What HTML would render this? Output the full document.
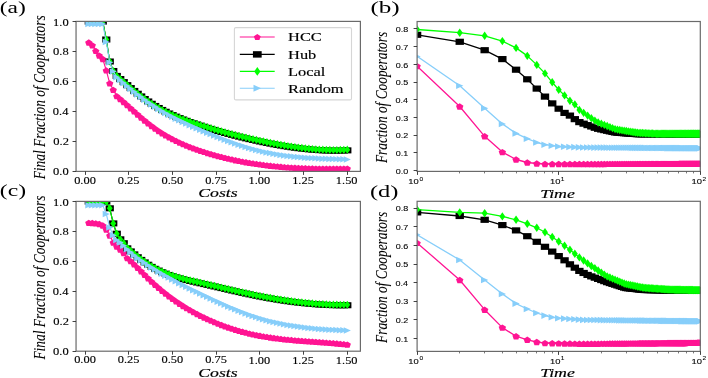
<!DOCTYPE html>
<html><head><meta charset="utf-8"><style>html,body{margin:0;padding:0;background:#fff;}svg{display:block;filter:blur(0.35px);}</style></head>
<body>
<svg width="708" height="378" viewBox="0 0 708 378">
<rect width="708" height="378" fill="#fff"/>
<defs>
<clipPath id="ca"><rect x="76.05" y="21.4" width="284.35" height="150.00"/></clipPath>
<clipPath id="cb"><rect x="417.1" y="21.5" width="283.20" height="149.90"/></clipPath>
<clipPath id="cc"><rect x="76.05" y="201.4" width="284.35" height="149.80"/></clipPath>
<clipPath id="cd"><rect x="417.1" y="201.3" width="283.20" height="150.10"/></clipPath>
</defs>
<g clip-path="url(#ca)">
<polyline points="88.79,42.50 92.29,45.30 95.78,50.90 99.27,55.60 102.77,59.00 106.26,70.40 109.75,83.30 113.25,89.80 116.74,96.12 120.23,99.07 123.73,102.11 127.22,105.22 130.71,108.35 134.21,111.48 137.70,114.58 141.19,117.62 144.69,120.58 148.18,123.42 151.67,126.11 155.17,128.64 158.66,131.03 162.15,133.27 165.65,135.38 169.14,137.36 172.63,139.22 176.13,140.97 179.62,142.62 183.12,144.17 186.61,145.64 190.10,147.02 193.60,148.34 197.09,149.59 200.58,150.79 204.08,151.94 207.57,153.04 211.06,154.09 214.56,155.10 218.05,156.06 221.54,156.98 225.04,157.85 228.53,158.69 232.02,159.48 235.52,160.23 239.01,160.94 242.50,161.62 246.00,162.26 249.49,162.86 252.98,163.42 256.48,163.95 259.97,164.45 263.46,164.91 266.96,165.34 270.45,165.74 273.94,166.11 277.44,166.46 280.93,166.77 284.42,167.05 287.92,167.31 291.41,167.55 294.90,167.76 298.40,167.94 301.89,168.11 305.38,168.25 308.88,168.37 312.37,168.47 315.86,168.56 319.36,168.62 322.85,168.67 326.34,168.70 329.84,168.71 333.33,168.72 336.82,168.70 340.32,168.68 343.81,168.65 347.31,168.60" fill="none" stroke="#ff1493" stroke-width="1.15" stroke-linejoin="round"/>
<g fill="#ff1493"><polygon points="88.79,39.36 92.42,41.76 91.04,45.65 86.55,45.65 85.16,41.76"/><polygon points="92.29,42.16 95.92,44.56 94.53,48.45 90.04,48.45 88.66,44.56"/><polygon points="95.78,47.76 99.41,50.16 98.02,54.05 93.54,54.05 92.15,50.16"/><polygon points="99.27,52.46 102.90,54.86 101.52,58.75 97.03,58.75 95.64,54.86"/><polygon points="102.77,55.86 106.40,58.26 105.01,62.15 100.52,62.15 99.14,58.26"/><polygon points="106.26,67.26 109.89,69.66 108.50,73.55 104.02,73.55 102.63,69.66"/><polygon points="109.75,80.16 113.38,82.56 112.00,86.45 107.51,86.45 106.12,82.56"/><polygon points="113.25,86.66 116.88,89.06 115.49,92.95 111.00,92.95 109.62,89.06"/><polygon points="116.74,92.98 120.37,95.38 118.98,99.27 114.50,99.27 113.11,95.38"/><polygon points="120.23,95.93 123.86,98.33 122.48,102.22 117.99,102.22 116.60,98.33"/><polygon points="123.73,98.97 127.36,101.37 125.97,105.26 121.48,105.26 120.10,101.37"/><polygon points="127.22,102.07 130.85,104.47 129.46,108.36 124.98,108.36 123.59,104.47"/><polygon points="130.71,105.20 134.34,107.60 132.96,111.49 128.47,111.49 127.09,107.60"/><polygon points="134.21,108.33 137.84,110.74 136.45,114.62 131.96,114.62 130.58,110.74"/><polygon points="137.70,111.44 141.33,113.84 139.94,117.73 135.46,117.73 134.07,113.84"/><polygon points="141.19,114.48 144.82,116.88 143.44,120.77 138.95,120.77 137.57,116.88"/><polygon points="144.69,117.43 148.32,119.84 146.93,123.72 142.44,123.72 141.06,119.84"/><polygon points="148.18,120.27 151.81,122.68 150.42,126.56 145.94,126.56 144.55,122.68"/><polygon points="151.67,122.96 155.30,125.37 153.92,129.25 149.43,129.25 148.05,125.37"/><polygon points="155.17,125.50 158.80,127.90 157.41,131.79 152.93,131.79 151.54,127.90"/><polygon points="158.66,127.88 162.29,130.29 160.90,134.17 156.42,134.17 155.03,130.29"/><polygon points="162.15,130.13 165.78,132.53 164.40,136.42 159.91,136.42 158.53,132.53"/><polygon points="165.65,132.23 169.28,134.63 167.89,138.52 163.41,138.52 162.02,134.63"/><polygon points="169.14,134.21 172.77,136.62 171.38,140.50 166.90,140.50 165.51,136.62"/><polygon points="172.63,136.07 176.26,138.48 174.88,142.36 170.39,142.36 169.01,138.48"/><polygon points="176.13,137.82 179.76,140.23 178.37,144.11 173.89,144.11 172.50,140.23"/><polygon points="179.62,139.47 183.25,141.88 181.86,145.76 177.38,145.76 175.99,141.88"/><polygon points="183.12,141.03 186.74,143.43 185.36,147.32 180.87,147.32 179.49,143.43"/><polygon points="186.61,142.49 190.24,144.89 188.85,148.78 184.37,148.78 182.98,144.89"/><polygon points="190.10,143.88 193.73,146.28 192.34,150.17 187.86,150.17 186.47,146.28"/><polygon points="193.60,145.19 197.22,147.60 195.84,151.48 191.35,151.48 189.97,147.60"/><polygon points="197.09,146.45 200.72,148.85 199.33,152.74 194.85,152.74 193.46,148.85"/><polygon points="200.58,147.64 204.21,150.05 202.83,153.93 198.34,153.93 196.95,150.05"/><polygon points="204.08,148.79 207.70,151.19 206.32,155.08 201.83,155.08 200.45,151.19"/><polygon points="207.57,149.89 211.20,152.29 209.81,156.18 205.33,156.18 203.94,152.29"/><polygon points="211.06,150.94 214.69,153.35 213.31,157.23 208.82,157.23 207.43,153.35"/><polygon points="214.56,151.95 218.18,154.35 216.80,158.24 212.31,158.24 210.93,154.35"/><polygon points="218.05,152.91 221.68,155.32 220.29,159.20 215.81,159.20 214.42,155.32"/><polygon points="221.54,153.83 225.17,156.24 223.79,160.12 219.30,160.12 217.91,156.24"/><polygon points="225.04,154.71 228.67,157.11 227.28,161.00 222.79,161.00 221.41,157.11"/><polygon points="228.53,155.54 232.16,157.94 230.77,161.83 226.29,161.83 224.90,157.94"/><polygon points="232.02,156.33 235.65,158.74 234.27,162.62 229.78,162.62 228.39,158.74"/><polygon points="235.52,157.09 239.15,159.49 237.76,163.38 233.27,163.38 231.89,159.49"/><polygon points="239.01,157.80 242.64,160.20 241.25,164.09 236.77,164.09 235.38,160.20"/><polygon points="242.50,158.47 246.13,160.88 244.75,164.76 240.26,164.76 238.87,160.88"/><polygon points="246.00,159.11 249.63,161.51 248.24,165.40 243.75,165.40 242.37,161.51"/><polygon points="249.49,159.71 253.12,162.11 251.73,166.00 247.25,166.00 245.86,162.11"/><polygon points="252.98,160.28 256.61,162.68 255.23,166.57 250.74,166.57 249.35,162.68"/><polygon points="256.48,160.81 260.11,163.21 258.72,167.10 254.23,167.10 252.85,163.21"/><polygon points="259.97,161.30 263.60,163.71 262.21,167.59 257.73,167.59 256.34,163.71"/><polygon points="263.46,161.77 267.09,164.17 265.71,168.06 261.22,168.06 259.83,164.17"/><polygon points="266.96,162.20 270.59,164.60 269.20,168.49 264.71,168.49 263.33,164.60"/><polygon points="270.45,162.60 274.08,165.00 272.69,168.89 268.21,168.89 266.82,165.00"/><polygon points="273.94,162.97 277.57,165.37 276.19,169.26 271.70,169.26 270.31,165.37"/><polygon points="277.44,163.31 281.07,165.71 279.68,169.60 275.19,169.60 273.81,165.71"/><polygon points="280.93,163.62 284.56,166.03 283.17,169.91 278.69,169.91 277.30,166.03"/><polygon points="284.42,163.91 288.05,166.31 286.67,170.20 282.18,170.20 280.79,166.31"/><polygon points="287.92,164.17 291.55,166.57 290.16,170.46 285.67,170.46 284.29,166.57"/><polygon points="291.41,164.40 295.04,166.81 293.65,170.69 289.17,170.69 287.78,166.81"/><polygon points="294.90,164.61 298.53,167.02 297.15,170.90 292.66,170.90 291.27,167.02"/><polygon points="298.40,164.80 302.03,167.20 300.64,171.09 296.15,171.09 294.77,167.20"/><polygon points="301.89,164.96 305.52,167.37 304.13,171.25 299.65,171.25 298.26,167.37"/><polygon points="305.38,165.11 309.01,167.51 307.63,171.40 303.14,171.40 301.76,167.51"/><polygon points="308.88,165.23 312.51,167.63 311.12,171.52 306.63,171.52 305.25,167.63"/><polygon points="312.37,165.33 316.00,167.73 314.61,171.62 310.13,171.62 308.74,167.73"/><polygon points="315.86,165.41 319.49,167.81 318.11,171.70 313.62,171.70 312.24,167.81"/><polygon points="319.36,165.47 322.99,167.88 321.60,171.76 317.11,171.76 315.73,167.88"/><polygon points="322.85,165.52 326.48,167.92 325.09,171.81 320.61,171.81 319.22,167.92"/><polygon points="326.34,165.55 329.97,167.96 328.59,171.84 324.10,171.84 322.72,167.96"/><polygon points="329.84,165.57 333.47,167.97 332.08,171.86 327.60,171.86 326.21,167.97"/><polygon points="333.33,165.57 336.96,167.97 335.57,171.86 331.09,171.86 329.70,167.97"/><polygon points="336.82,165.56 340.45,167.96 339.07,171.85 334.58,171.85 333.20,167.96"/><polygon points="340.32,165.54 343.95,167.94 342.56,171.83 338.08,171.83 336.69,167.94"/><polygon points="343.81,165.50 347.44,167.90 346.05,171.79 341.57,171.79 340.18,167.90"/><polygon points="347.31,165.45 350.93,167.86 349.55,171.74 345.06,171.74 343.68,167.86"/></g>
</g>
<g clip-path="url(#ca)">
<polyline points="88.79,21.60 92.29,21.60 95.78,21.60 99.27,21.60 102.77,21.60 106.26,39.50 109.75,61.50 113.25,71.00 116.74,75.92 120.23,79.04 123.73,82.12 127.22,85.13 130.71,88.08 134.21,90.96 137.70,93.74 141.19,96.43 144.69,99.00 148.18,101.45 151.67,103.77 155.17,105.95 158.66,108.01 162.15,109.94 165.65,111.77 169.14,113.49 172.63,115.11 176.13,116.65 179.62,118.10 183.12,119.49 186.61,120.81 190.10,122.08 193.60,123.29 197.09,124.47 200.58,125.62 204.08,126.74 207.57,127.84 211.06,128.91 214.56,129.95 218.05,130.98 221.54,131.98 225.04,132.95 228.53,133.90 232.02,134.83 235.52,135.74 239.01,136.63 242.50,137.49 246.00,138.33 249.49,139.15 252.98,139.95 256.48,140.73 259.97,141.48 263.46,142.22 266.96,142.93 270.45,143.62 273.94,144.29 277.44,144.93 280.93,145.55 284.42,146.13 287.92,146.69 291.41,147.21 294.90,147.71 298.40,148.17 301.89,148.59 305.38,148.98 308.88,149.33 312.37,149.65 315.86,149.92 319.36,150.15 322.85,150.34 326.34,150.49 329.84,150.59 333.33,150.64 336.82,150.64 340.32,150.60 343.81,150.51 347.31,150.36" fill="none" stroke="#000000" stroke-width="1.15" stroke-linejoin="round"/>
<g fill="#000000"><rect x="84.69" y="18.58" width="8.21" height="6.05"/><rect x="88.18" y="18.58" width="8.21" height="6.05"/><rect x="91.68" y="18.58" width="8.21" height="6.05"/><rect x="95.17" y="18.58" width="8.21" height="6.05"/><rect x="98.66" y="18.58" width="8.21" height="6.05"/><rect x="102.16" y="36.48" width="8.21" height="6.05"/><rect x="105.65" y="58.48" width="8.21" height="6.05"/><rect x="109.14" y="67.98" width="8.21" height="6.05"/><rect x="112.64" y="72.90" width="8.21" height="6.05"/><rect x="116.13" y="76.02" width="8.21" height="6.05"/><rect x="119.62" y="79.09" width="8.21" height="6.05"/><rect x="123.12" y="82.11" width="8.21" height="6.05"/><rect x="126.61" y="85.06" width="8.21" height="6.05"/><rect x="130.10" y="87.93" width="8.21" height="6.05"/><rect x="133.60" y="90.72" width="8.21" height="6.05"/><rect x="137.09" y="93.40" width="8.21" height="6.05"/><rect x="140.58" y="95.98" width="8.21" height="6.05"/><rect x="144.08" y="98.43" width="8.21" height="6.05"/><rect x="147.57" y="100.75" width="8.21" height="6.05"/><rect x="151.06" y="102.93" width="8.21" height="6.05"/><rect x="154.56" y="104.98" width="8.21" height="6.05"/><rect x="158.05" y="106.92" width="8.21" height="6.05"/><rect x="161.54" y="108.74" width="8.21" height="6.05"/><rect x="165.04" y="110.46" width="8.21" height="6.05"/><rect x="168.53" y="112.09" width="8.21" height="6.05"/><rect x="172.02" y="113.62" width="8.21" height="6.05"/><rect x="175.52" y="115.08" width="8.21" height="6.05"/><rect x="179.01" y="116.47" width="8.21" height="6.05"/><rect x="182.50" y="117.79" width="8.21" height="6.05"/><rect x="186.00" y="119.05" width="8.21" height="6.05"/><rect x="189.49" y="120.27" width="8.21" height="6.05"/><rect x="192.98" y="121.45" width="8.21" height="6.05"/><rect x="196.48" y="122.60" width="8.21" height="6.05"/><rect x="199.97" y="123.72" width="8.21" height="6.05"/><rect x="203.47" y="124.81" width="8.21" height="6.05"/><rect x="206.96" y="125.88" width="8.21" height="6.05"/><rect x="210.45" y="126.93" width="8.21" height="6.05"/><rect x="213.95" y="127.95" width="8.21" height="6.05"/><rect x="217.44" y="128.95" width="8.21" height="6.05"/><rect x="220.93" y="129.93" width="8.21" height="6.05"/><rect x="224.43" y="130.88" width="8.21" height="6.05"/><rect x="227.92" y="131.81" width="8.21" height="6.05"/><rect x="231.41" y="132.72" width="8.21" height="6.05"/><rect x="234.91" y="133.60" width="8.21" height="6.05"/><rect x="238.40" y="134.47" width="8.21" height="6.05"/><rect x="241.89" y="135.31" width="8.21" height="6.05"/><rect x="245.39" y="136.13" width="8.21" height="6.05"/><rect x="248.88" y="136.92" width="8.21" height="6.05"/><rect x="252.37" y="137.70" width="8.21" height="6.05"/><rect x="255.87" y="138.46" width="8.21" height="6.05"/><rect x="259.36" y="139.19" width="8.21" height="6.05"/><rect x="262.85" y="139.91" width="8.21" height="6.05"/><rect x="266.35" y="140.60" width="8.21" height="6.05"/><rect x="269.84" y="141.27" width="8.21" height="6.05"/><rect x="273.33" y="141.91" width="8.21" height="6.05"/><rect x="276.83" y="142.52" width="8.21" height="6.05"/><rect x="280.32" y="143.11" width="8.21" height="6.05"/><rect x="283.81" y="143.66" width="8.21" height="6.05"/><rect x="287.31" y="144.19" width="8.21" height="6.05"/><rect x="290.80" y="144.68" width="8.21" height="6.05"/><rect x="294.29" y="145.14" width="8.21" height="6.05"/><rect x="297.79" y="145.57" width="8.21" height="6.05"/><rect x="301.28" y="145.96" width="8.21" height="6.05"/><rect x="304.77" y="146.31" width="8.21" height="6.05"/><rect x="308.27" y="146.62" width="8.21" height="6.05"/><rect x="311.76" y="146.89" width="8.21" height="6.05"/><rect x="315.25" y="147.13" width="8.21" height="6.05"/><rect x="318.75" y="147.32" width="8.21" height="6.05"/><rect x="322.24" y="147.46" width="8.21" height="6.05"/><rect x="325.73" y="147.56" width="8.21" height="6.05"/><rect x="329.23" y="147.61" width="8.21" height="6.05"/><rect x="332.72" y="147.62" width="8.21" height="6.05"/><rect x="336.21" y="147.58" width="8.21" height="6.05"/><rect x="339.71" y="147.48" width="8.21" height="6.05"/><rect x="343.20" y="147.34" width="8.21" height="6.05"/></g>
</g>
<g clip-path="url(#ca)">
<polyline points="88.79,21.60 92.29,21.60 95.78,21.60 99.27,21.60 102.77,21.60 106.26,39.50 109.75,61.50 113.25,71.00 116.74,75.96 120.23,79.02 123.73,82.06 127.22,85.07 130.71,88.03 134.21,90.92 137.70,93.73 141.19,96.45 144.69,99.05 148.18,101.53 151.67,103.86 155.17,106.05 158.66,108.10 162.15,110.02 165.65,111.82 169.14,113.51 172.63,115.10 176.13,116.60 179.62,118.01 183.12,119.35 186.61,120.62 190.10,121.83 193.60,123.00 197.09,124.13 200.58,125.23 204.08,126.31 207.57,127.36 211.06,128.40 214.56,129.41 218.05,130.40 221.54,131.37 225.04,132.32 228.53,133.25 232.02,134.16 235.52,135.05 239.01,135.92 242.50,136.77 246.00,137.60 249.49,138.41 252.98,139.20 256.48,139.98 259.97,140.73 263.46,141.47 266.96,142.18 270.45,142.88 273.94,143.55 277.44,144.20 280.93,144.82 284.42,145.42 287.92,145.98 291.41,146.52 294.90,147.02 298.40,147.49 301.89,147.92 305.38,148.32 308.88,148.68 312.37,149.00 315.86,149.27 319.36,149.51 322.85,149.70 326.34,149.84 329.84,149.94 333.33,149.99 336.82,149.98 340.32,149.93 343.81,149.82 347.31,149.66" fill="none" stroke="#00ff00" stroke-width="1.15" stroke-linejoin="round"/>
<g fill="#00ff00"><polygon points="88.79,17.50 91.71,21.60 88.79,25.70 85.88,21.60"/><polygon points="92.29,17.50 95.20,21.60 92.29,25.70 89.37,21.60"/><polygon points="95.78,17.50 98.70,21.60 95.78,25.70 92.86,21.60"/><polygon points="99.27,17.50 102.19,21.60 99.27,25.70 96.36,21.60"/><polygon points="102.77,17.50 105.68,21.60 102.77,25.70 99.85,21.60"/><polygon points="106.26,35.40 109.18,39.50 106.26,43.60 103.34,39.50"/><polygon points="109.75,57.40 112.67,61.50 109.75,65.60 106.84,61.50"/><polygon points="113.25,66.90 116.16,71.00 113.25,75.10 110.33,71.00"/><polygon points="116.74,71.85 119.66,75.96 116.74,80.06 113.82,75.96"/><polygon points="120.23,74.92 123.15,79.02 120.23,83.12 117.32,79.02"/><polygon points="123.73,77.96 126.64,82.06 123.73,86.17 120.81,82.06"/><polygon points="127.22,80.97 130.14,85.07 127.22,89.17 124.30,85.07"/><polygon points="130.71,83.92 133.63,88.03 130.71,92.13 127.80,88.03"/><polygon points="134.21,86.82 137.12,90.92 134.21,95.02 131.29,90.92"/><polygon points="137.70,89.63 140.62,93.73 137.70,97.84 134.78,93.73"/><polygon points="141.19,92.34 144.11,96.45 141.19,100.55 138.28,96.45"/><polygon points="144.69,94.95 147.60,99.05 144.69,103.16 141.77,99.05"/><polygon points="148.18,97.42 151.10,101.53 148.18,105.63 145.27,101.53"/><polygon points="151.67,99.76 154.59,103.86 151.67,107.96 148.76,103.86"/><polygon points="155.17,101.94 158.08,106.05 155.17,110.15 152.25,106.05"/><polygon points="158.66,103.99 161.58,108.10 158.66,112.20 155.75,108.10"/><polygon points="162.15,105.91 165.07,110.02 162.15,114.12 159.24,110.02"/><polygon points="165.65,107.72 168.56,111.82 165.65,115.92 162.73,111.82"/><polygon points="169.14,109.41 172.06,113.51 169.14,117.61 166.23,113.51"/><polygon points="172.63,111.00 175.55,115.10 172.63,119.20 169.72,115.10"/><polygon points="176.13,112.49 179.04,116.60 176.13,120.70 173.21,116.60"/><polygon points="179.62,113.90 182.54,118.01 179.62,122.11 176.71,118.01"/><polygon points="183.12,115.24 186.03,119.35 183.12,123.45 180.20,119.35"/><polygon points="186.61,116.51 189.52,120.62 186.61,124.72 183.69,120.62"/><polygon points="190.10,117.73 193.02,121.83 190.10,125.94 187.19,121.83"/><polygon points="193.60,118.90 196.51,123.00 193.60,127.11 190.68,123.00"/><polygon points="197.09,120.03 200.00,124.13 197.09,128.24 194.17,124.13"/><polygon points="200.58,121.13 203.50,125.23 200.58,129.34 197.67,125.23"/><polygon points="204.08,122.21 206.99,126.31 204.08,130.41 201.16,126.31"/><polygon points="207.57,123.26 210.49,127.36 207.57,131.47 204.65,127.36"/><polygon points="211.06,124.29 213.98,128.40 211.06,132.50 208.15,128.40"/><polygon points="214.56,125.31 217.47,129.41 214.56,133.51 211.64,129.41"/><polygon points="218.05,126.30 220.97,130.40 218.05,134.51 215.13,130.40"/><polygon points="221.54,127.27 224.46,131.37 221.54,135.48 218.63,131.37"/><polygon points="225.04,128.22 227.95,132.32 225.04,136.43 222.12,132.32"/><polygon points="228.53,129.15 231.45,133.25 228.53,137.36 225.61,133.25"/><polygon points="232.02,130.06 234.94,134.16 232.02,138.27 229.11,134.16"/><polygon points="235.52,130.95 238.43,135.05 235.52,139.15 232.60,135.05"/><polygon points="239.01,131.82 241.93,135.92 239.01,140.02 236.09,135.92"/><polygon points="242.50,132.67 245.42,136.77 242.50,140.87 239.59,136.77"/><polygon points="246.00,133.50 248.91,137.60 246.00,141.70 243.08,137.60"/><polygon points="249.49,134.31 252.41,138.41 249.49,142.51 246.57,138.41"/><polygon points="252.98,135.10 255.90,139.20 252.98,143.31 250.07,139.20"/><polygon points="256.48,135.87 259.39,139.98 256.48,144.08 253.56,139.98"/><polygon points="259.97,136.63 262.89,140.73 259.97,144.84 257.05,140.73"/><polygon points="263.46,137.36 266.38,141.47 263.46,145.57 260.55,141.47"/><polygon points="266.96,138.08 269.87,142.18 266.96,146.29 264.04,142.18"/><polygon points="270.45,138.78 273.37,142.88 270.45,146.98 267.53,142.88"/><polygon points="273.94,139.45 276.86,143.55 273.94,147.66 271.03,143.55"/><polygon points="277.44,140.10 280.35,144.20 277.44,148.30 274.52,144.20"/><polygon points="280.93,140.72 283.85,144.82 280.93,148.93 278.01,144.82"/><polygon points="284.42,141.31 287.34,145.42 284.42,149.52 281.51,145.42"/><polygon points="287.92,141.88 290.83,145.98 287.92,150.09 285.00,145.98"/><polygon points="291.41,142.41 294.33,146.52 291.41,150.62 288.49,146.52"/><polygon points="294.90,142.91 297.82,147.02 294.90,151.12 291.99,147.02"/><polygon points="298.40,143.38 301.31,147.49 298.40,151.59 295.48,147.49"/><polygon points="301.89,143.82 304.81,147.92 301.89,152.03 298.97,147.92"/><polygon points="305.38,144.21 308.30,148.32 305.38,152.42 302.47,148.32"/><polygon points="308.88,144.57 311.79,148.68 308.88,152.78 305.96,148.68"/><polygon points="312.37,144.89 315.29,149.00 312.37,153.10 309.45,149.00"/><polygon points="315.86,145.17 318.78,149.27 315.86,153.38 312.95,149.27"/><polygon points="319.36,145.40 322.27,149.51 319.36,153.61 316.44,149.51"/><polygon points="322.85,145.59 325.77,149.70 322.85,153.80 319.94,149.70"/><polygon points="326.34,145.74 329.26,149.84 326.34,153.95 323.43,149.84"/><polygon points="329.84,145.84 332.75,149.94 329.84,154.04 326.92,149.94"/><polygon points="333.33,145.88 336.25,149.99 333.33,154.09 330.42,149.99"/><polygon points="336.82,145.88 339.74,149.98 336.82,154.09 333.91,149.98"/><polygon points="340.32,145.83 343.23,149.93 340.32,154.03 337.40,149.93"/><polygon points="343.81,145.72 346.73,149.82 343.81,153.92 340.90,149.82"/><polygon points="347.31,145.55 350.22,149.66 347.31,153.76 344.39,149.66"/></g>
</g>
<g clip-path="url(#ca)">
<polyline points="88.79,24.00 92.29,24.00 95.78,24.00 99.27,24.00 102.77,24.00 106.26,42.00 109.75,62.40 113.25,71.50 116.74,77.17 120.23,80.12 123.73,83.06 127.22,85.96 130.71,88.83 134.21,91.65 137.70,94.41 141.19,97.09 144.69,99.68 148.18,102.18 151.67,104.58 155.17,106.86 158.66,109.04 162.15,111.12 165.65,113.12 169.14,115.03 172.63,116.87 176.13,118.64 179.62,120.35 183.12,122.00 186.61,123.61 190.10,125.18 193.60,126.72 197.09,128.23 200.58,129.73 204.08,131.21 207.57,132.67 211.06,134.11 214.56,135.54 218.05,136.94 221.54,138.31 225.04,139.65 228.53,140.96 232.02,142.24 235.52,143.47 239.01,144.67 242.50,145.82 246.00,146.92 249.49,147.97 252.98,148.97 256.48,149.92 259.97,150.81 263.46,151.63 266.96,152.40 270.45,153.11 273.94,153.77 277.44,154.37 280.93,154.93 284.42,155.44 287.92,155.90 291.41,156.33 294.90,156.71 298.40,157.06 301.89,157.37 305.38,157.65 308.88,157.90 312.37,158.12 315.86,158.32 319.36,158.50 322.85,158.65 326.34,158.79 329.84,158.92 333.33,159.03 336.82,159.13 340.32,159.22 343.81,159.30 347.31,159.39" fill="none" stroke="#87cefa" stroke-width="1.15" stroke-linejoin="round"/>
<g fill="#87cefa"><polygon points="92.36,24.00 85.23,20.76 85.23,27.24"/><polygon points="95.85,24.00 88.72,20.76 88.72,27.24"/><polygon points="99.34,24.00 92.22,20.76 92.22,27.24"/><polygon points="102.84,24.00 95.71,20.76 95.71,27.24"/><polygon points="106.33,24.00 99.20,20.76 99.20,27.24"/><polygon points="109.82,42.00 102.70,38.76 102.70,45.24"/><polygon points="113.32,62.40 106.19,59.16 106.19,65.64"/><polygon points="116.81,71.50 109.68,68.26 109.68,74.74"/><polygon points="120.30,77.17 113.18,73.93 113.18,80.41"/><polygon points="123.80,80.12 116.67,76.88 116.67,83.36"/><polygon points="127.29,83.06 120.16,79.82 120.16,86.30"/><polygon points="130.78,85.96 123.66,82.72 123.66,89.20"/><polygon points="134.28,88.83 127.15,85.59 127.15,92.07"/><polygon points="137.77,91.65 130.64,88.41 130.64,94.89"/><polygon points="141.26,94.41 134.14,91.17 134.14,97.65"/><polygon points="144.76,97.09 137.63,93.85 137.63,100.33"/><polygon points="148.25,99.68 141.12,96.44 141.12,102.92"/><polygon points="151.75,102.18 144.62,98.94 144.62,105.42"/><polygon points="155.24,104.58 148.11,101.34 148.11,107.82"/><polygon points="158.73,106.86 151.60,103.62 151.60,110.10"/><polygon points="162.23,109.04 155.10,105.80 155.10,112.28"/><polygon points="165.72,111.12 158.59,107.88 158.59,114.36"/><polygon points="169.21,113.12 162.08,109.88 162.08,116.36"/><polygon points="172.71,115.03 165.58,111.79 165.58,118.27"/><polygon points="176.20,116.87 169.07,113.63 169.07,120.11"/><polygon points="179.69,118.64 172.56,115.40 172.56,121.88"/><polygon points="183.19,120.35 176.06,117.11 176.06,123.59"/><polygon points="186.68,122.00 179.55,118.76 179.55,125.24"/><polygon points="190.17,123.61 183.04,120.37 183.04,126.85"/><polygon points="193.67,125.18 186.54,121.94 186.54,128.42"/><polygon points="197.16,126.72 190.03,123.48 190.03,129.96"/><polygon points="200.65,128.23 193.52,124.99 193.52,131.47"/><polygon points="204.15,129.73 197.02,126.49 197.02,132.97"/><polygon points="207.64,131.21 200.51,127.97 200.51,134.45"/><polygon points="211.13,132.67 204.01,129.43 204.01,135.91"/><polygon points="214.63,134.11 207.50,130.87 207.50,137.35"/><polygon points="218.12,135.54 210.99,132.30 210.99,138.78"/><polygon points="221.61,136.94 214.49,133.70 214.49,140.18"/><polygon points="225.11,138.31 217.98,135.07 217.98,141.55"/><polygon points="228.60,139.65 221.47,136.41 221.47,142.89"/><polygon points="232.09,140.96 224.97,137.72 224.97,144.20"/><polygon points="235.59,142.24 228.46,139.00 228.46,145.48"/><polygon points="239.08,143.47 231.95,140.23 231.95,146.71"/><polygon points="242.57,144.67 235.45,141.43 235.45,147.91"/><polygon points="246.07,145.82 238.94,142.58 238.94,149.06"/><polygon points="249.56,146.92 242.43,143.68 242.43,150.16"/><polygon points="253.05,147.97 245.93,144.73 245.93,151.21"/><polygon points="256.55,148.97 249.42,145.73 249.42,152.21"/><polygon points="260.04,149.92 252.91,146.68 252.91,153.16"/><polygon points="263.53,150.81 256.41,147.57 256.41,154.05"/><polygon points="267.03,151.63 259.90,148.39 259.90,154.87"/><polygon points="270.52,152.40 263.39,149.16 263.39,155.64"/><polygon points="274.01,153.11 266.89,149.87 266.89,156.35"/><polygon points="277.51,153.77 270.38,150.53 270.38,157.01"/><polygon points="281.00,154.37 273.87,151.13 273.87,157.61"/><polygon points="284.49,154.93 277.37,151.69 277.37,158.17"/><polygon points="287.99,155.44 280.86,152.20 280.86,158.68"/><polygon points="291.48,155.90 284.35,152.66 284.35,159.14"/><polygon points="294.97,156.33 287.85,153.09 287.85,159.57"/><polygon points="298.47,156.71 291.34,153.47 291.34,159.95"/><polygon points="301.96,157.06 294.83,153.82 294.83,160.30"/><polygon points="305.45,157.37 298.33,154.13 298.33,160.61"/><polygon points="308.95,157.65 301.82,154.41 301.82,160.89"/><polygon points="312.44,157.90 305.31,154.66 305.31,161.14"/><polygon points="315.94,158.12 308.81,154.88 308.81,161.36"/><polygon points="319.43,158.32 312.30,155.08 312.30,161.56"/><polygon points="322.92,158.50 315.79,155.26 315.79,161.74"/><polygon points="326.42,158.65 319.29,155.41 319.29,161.89"/><polygon points="329.91,158.79 322.78,155.55 322.78,162.03"/><polygon points="333.40,158.92 326.27,155.68 326.27,162.16"/><polygon points="336.90,159.03 329.77,155.79 329.77,162.27"/><polygon points="340.39,159.13 333.26,155.89 333.26,162.37"/><polygon points="343.88,159.22 336.75,155.98 336.75,162.46"/><polygon points="347.38,159.30 340.25,156.06 340.25,162.54"/><polygon points="350.87,159.39 343.74,156.15 343.74,162.63"/></g>
</g>
<g clip-path="url(#cc)">
<polyline points="88.79,222.80 92.29,223.00 95.78,223.30 99.27,224.00 102.77,225.50 106.26,229.50 109.75,235.60 113.25,242.50 116.74,246.50 120.23,249.60 123.73,253.00 127.22,258.13 130.71,261.16 134.21,264.41 137.70,267.82 141.19,271.31 144.69,274.83 148.18,278.30 151.67,281.66 155.17,284.87 158.66,287.95 162.15,290.89 165.65,293.70 169.14,296.39 172.63,298.96 176.13,301.41 179.62,303.76 183.12,306.00 186.61,308.14 190.10,310.18 193.60,312.14 197.09,314.01 200.58,315.80 204.08,317.51 207.57,319.15 211.06,320.72 214.56,322.22 218.05,323.64 221.54,325.00 225.04,326.29 228.53,327.51 232.02,328.67 235.52,329.76 239.01,330.79 242.50,331.76 246.00,332.67 249.49,333.53 252.98,334.32 256.48,335.06 259.97,335.75 263.46,336.38 266.96,336.97 270.45,337.51 273.94,338.01 277.44,338.46 280.93,338.88 284.42,339.27 287.92,339.63 291.41,339.97 294.90,340.28 298.40,340.57 301.89,340.85 305.38,341.11 308.88,341.37 312.37,341.62 315.86,341.86 319.36,342.11 322.85,342.36 326.34,342.62 329.84,342.90 333.33,343.18 336.82,343.49 340.32,343.81 343.81,344.16 347.31,344.54" fill="none" stroke="#ff1493" stroke-width="1.15" stroke-linejoin="round"/>
<g fill="#ff1493"><polygon points="88.79,219.66 92.42,222.06 91.04,225.95 86.55,225.95 85.16,222.06"/><polygon points="92.29,219.86 95.92,222.26 94.53,226.15 90.04,226.15 88.66,222.26"/><polygon points="95.78,220.16 99.41,222.56 98.02,226.45 93.54,226.45 92.15,222.56"/><polygon points="99.27,220.86 102.90,223.26 101.52,227.15 97.03,227.15 95.64,223.26"/><polygon points="102.77,222.36 106.40,224.76 105.01,228.65 100.52,228.65 99.14,224.76"/><polygon points="106.26,226.36 109.89,228.76 108.50,232.65 104.02,232.65 102.63,228.76"/><polygon points="109.75,232.46 113.38,234.86 112.00,238.75 107.51,238.75 106.12,234.86"/><polygon points="113.25,239.36 116.88,241.76 115.49,245.65 111.00,245.65 109.62,241.76"/><polygon points="116.74,243.36 120.37,245.76 118.98,249.65 114.50,249.65 113.11,245.76"/><polygon points="120.23,246.46 123.86,248.86 122.48,252.75 117.99,252.75 116.60,248.86"/><polygon points="123.73,249.86 127.36,252.26 125.97,256.15 121.48,256.15 120.10,252.26"/><polygon points="127.22,254.99 130.85,257.39 129.46,261.28 124.98,261.28 123.59,257.39"/><polygon points="130.71,258.02 134.34,260.42 132.96,264.31 128.47,264.31 127.09,260.42"/><polygon points="134.21,261.27 137.84,263.67 136.45,267.56 131.96,267.56 130.58,263.67"/><polygon points="137.70,264.68 141.33,267.08 139.94,270.97 135.46,270.97 134.07,267.08"/><polygon points="141.19,268.17 144.82,270.57 143.44,274.46 138.95,274.46 137.57,270.57"/><polygon points="144.69,271.68 148.32,274.09 146.93,277.97 142.44,277.97 141.06,274.09"/><polygon points="148.18,275.15 151.81,277.55 150.42,281.44 145.94,281.44 144.55,277.55"/><polygon points="151.67,278.51 155.30,280.91 153.92,284.80 149.43,284.80 148.05,280.91"/><polygon points="155.17,281.73 158.80,284.13 157.41,288.02 152.93,288.02 151.54,284.13"/><polygon points="158.66,284.80 162.29,287.21 160.90,291.09 156.42,291.09 155.03,287.21"/><polygon points="162.15,287.75 165.78,290.15 164.40,294.04 159.91,294.04 158.53,290.15"/><polygon points="165.65,290.56 169.28,292.96 167.89,296.85 163.41,296.85 162.02,292.96"/><polygon points="169.14,293.25 172.77,295.65 171.38,299.54 166.90,299.54 165.51,295.65"/><polygon points="172.63,295.82 176.26,298.22 174.88,302.11 170.39,302.11 169.01,298.22"/><polygon points="176.13,298.27 179.76,300.67 178.37,304.56 173.89,304.56 172.50,300.67"/><polygon points="179.62,300.61 183.25,303.02 181.86,306.90 177.38,306.90 175.99,303.02"/><polygon points="183.12,302.85 186.74,305.26 185.36,309.14 180.87,309.14 179.49,305.26"/><polygon points="186.61,304.99 190.24,307.40 188.85,311.28 184.37,311.28 182.98,307.40"/><polygon points="190.10,307.04 193.73,309.44 192.34,313.33 187.86,313.33 186.47,309.44"/><polygon points="193.60,308.99 197.22,311.40 195.84,315.28 191.35,315.28 189.97,311.40"/><polygon points="197.09,310.87 200.72,313.27 199.33,317.15 194.85,317.15 193.46,313.27"/><polygon points="200.58,312.66 204.21,315.06 202.83,318.95 198.34,318.95 196.95,315.06"/><polygon points="204.08,314.37 207.70,316.77 206.32,320.66 201.83,320.66 200.45,316.77"/><polygon points="207.57,316.01 211.20,318.41 209.81,322.30 205.33,322.30 203.94,318.41"/><polygon points="211.06,317.58 214.69,319.98 213.31,323.87 208.82,323.87 207.43,319.98"/><polygon points="214.56,319.07 218.18,321.47 216.80,325.36 212.31,325.36 210.93,321.47"/><polygon points="218.05,320.50 221.68,322.90 220.29,326.79 215.81,326.79 214.42,322.90"/><polygon points="221.54,321.85 225.17,324.25 223.79,328.14 219.30,328.14 217.91,324.25"/><polygon points="225.04,323.14 228.67,325.54 227.28,329.43 222.79,329.43 221.41,325.54"/><polygon points="228.53,324.36 232.16,326.77 230.77,330.65 226.29,330.65 224.90,326.77"/><polygon points="232.02,325.52 235.65,327.92 234.27,331.81 229.78,331.81 228.39,327.92"/><polygon points="235.52,326.61 239.15,329.02 237.76,332.90 233.27,332.90 231.89,329.02"/><polygon points="239.01,327.65 242.64,330.05 241.25,333.94 236.77,333.94 235.38,330.05"/><polygon points="242.50,328.62 246.13,331.02 244.75,334.91 240.26,334.91 238.87,331.02"/><polygon points="246.00,329.53 249.63,331.93 248.24,335.82 243.75,335.82 242.37,331.93"/><polygon points="249.49,330.38 253.12,332.78 251.73,336.67 247.25,336.67 245.86,332.78"/><polygon points="252.98,331.18 256.61,333.58 255.23,337.47 250.74,337.47 249.35,333.58"/><polygon points="256.48,331.92 260.11,334.32 258.72,338.21 254.23,338.21 252.85,334.32"/><polygon points="259.97,332.61 263.60,335.01 262.21,338.90 257.73,338.90 256.34,335.01"/><polygon points="263.46,333.24 267.09,335.64 265.71,339.53 261.22,339.53 259.83,335.64"/><polygon points="266.96,333.82 270.59,336.23 269.20,340.11 264.71,340.11 263.33,336.23"/><polygon points="270.45,334.36 274.08,336.77 272.69,340.65 268.21,340.65 266.82,336.77"/><polygon points="273.94,334.86 277.57,337.26 276.19,341.15 271.70,341.15 270.31,337.26"/><polygon points="277.44,335.32 281.07,337.72 279.68,341.61 275.19,341.61 273.81,337.72"/><polygon points="280.93,335.74 284.56,338.14 283.17,342.03 278.69,342.03 277.30,338.14"/><polygon points="284.42,336.13 288.05,338.53 286.67,342.42 282.18,342.42 280.79,338.53"/><polygon points="287.92,336.49 291.55,338.89 290.16,342.78 285.67,342.78 284.29,338.89"/><polygon points="291.41,336.82 295.04,339.22 293.65,343.11 289.17,343.11 287.78,339.22"/><polygon points="294.90,337.13 298.53,339.54 297.15,343.42 292.66,343.42 291.27,339.54"/><polygon points="298.40,337.43 302.03,339.83 300.64,343.72 296.15,343.72 294.77,339.83"/><polygon points="301.89,337.70 305.52,340.10 304.13,343.99 299.65,343.99 298.26,340.10"/><polygon points="305.38,337.97 309.01,340.37 307.63,344.26 303.14,344.26 301.76,340.37"/><polygon points="308.88,338.22 312.51,340.62 311.12,344.51 306.63,344.51 305.25,340.62"/><polygon points="312.37,338.47 316.00,340.87 314.61,344.76 310.13,344.76 308.74,340.87"/><polygon points="315.86,338.72 319.49,341.12 318.11,345.01 313.62,345.01 312.24,341.12"/><polygon points="319.36,338.97 322.99,341.37 321.60,345.26 317.11,345.26 315.73,341.37"/><polygon points="322.85,339.22 326.48,341.62 325.09,345.51 320.61,345.51 319.22,341.62"/><polygon points="326.34,339.48 329.97,341.88 328.59,345.77 324.10,345.77 322.72,341.88"/><polygon points="329.84,339.75 333.47,342.15 332.08,346.04 327.60,346.04 326.21,342.15"/><polygon points="333.33,340.04 336.96,342.44 335.57,346.33 331.09,346.33 329.70,342.44"/><polygon points="336.82,340.34 340.45,342.74 339.07,346.63 334.58,346.63 333.20,342.74"/><polygon points="340.32,340.67 343.95,343.07 342.56,346.96 338.08,346.96 336.69,343.07"/><polygon points="343.81,341.02 347.44,343.42 346.05,347.31 341.57,347.31 340.18,343.42"/><polygon points="347.31,341.39 350.93,343.80 349.55,347.68 345.06,347.68 343.68,343.80"/></g>
</g>
<g clip-path="url(#cc)">
<polyline points="88.79,201.60 92.29,201.60 95.78,201.60 99.27,201.60 102.77,201.60 106.26,201.60 109.75,208.30 113.25,223.40 116.74,233.70 120.23,239.30 123.73,243.20 127.22,248.31 130.71,251.41 134.21,254.39 137.70,257.22 141.19,259.90 144.69,262.41 148.18,264.75 151.67,266.88 155.17,268.83 158.66,270.60 162.15,272.21 165.65,273.66 169.14,274.99 172.63,276.19 176.13,277.29 179.62,278.30 183.12,279.23 186.61,280.11 190.10,280.93 193.60,281.73 197.09,282.51 200.58,283.29 204.08,284.07 207.57,284.86 211.06,285.66 214.56,286.47 218.05,287.28 221.54,288.08 225.04,288.89 228.53,289.69 232.02,290.49 235.52,291.28 239.01,292.07 242.50,292.84 246.00,293.60 249.49,294.35 252.98,295.08 256.48,295.79 259.97,296.49 263.46,297.16 266.96,297.81 270.45,298.44 273.94,299.04 277.44,299.63 280.93,300.18 284.42,300.71 287.92,301.22 291.41,301.70 294.90,302.15 298.40,302.57 301.89,302.97 305.38,303.33 308.88,303.67 312.37,303.98 315.86,304.25 319.36,304.50 322.85,304.71 326.34,304.89 329.84,305.03 333.33,305.15 336.82,305.22 340.32,305.26 343.81,305.27 347.31,305.24" fill="none" stroke="#000000" stroke-width="1.15" stroke-linejoin="round"/>
<g fill="#000000"><rect x="84.69" y="198.58" width="8.21" height="6.05"/><rect x="88.18" y="198.58" width="8.21" height="6.05"/><rect x="91.68" y="198.58" width="8.21" height="6.05"/><rect x="95.17" y="198.58" width="8.21" height="6.05"/><rect x="98.66" y="198.58" width="8.21" height="6.05"/><rect x="102.16" y="198.58" width="8.21" height="6.05"/><rect x="105.65" y="205.28" width="8.21" height="6.05"/><rect x="109.14" y="220.38" width="8.21" height="6.05"/><rect x="112.64" y="230.68" width="8.21" height="6.05"/><rect x="116.13" y="236.28" width="8.21" height="6.05"/><rect x="119.62" y="240.18" width="8.21" height="6.05"/><rect x="123.12" y="245.29" width="8.21" height="6.05"/><rect x="126.61" y="248.39" width="8.21" height="6.05"/><rect x="130.10" y="251.36" width="8.21" height="6.05"/><rect x="133.60" y="254.20" width="8.21" height="6.05"/><rect x="137.09" y="256.88" width="8.21" height="6.05"/><rect x="140.58" y="259.39" width="8.21" height="6.05"/><rect x="144.08" y="261.72" width="8.21" height="6.05"/><rect x="147.57" y="263.86" width="8.21" height="6.05"/><rect x="151.06" y="265.81" width="8.21" height="6.05"/><rect x="154.56" y="267.58" width="8.21" height="6.05"/><rect x="158.05" y="269.18" width="8.21" height="6.05"/><rect x="161.54" y="270.64" width="8.21" height="6.05"/><rect x="165.04" y="271.96" width="8.21" height="6.05"/><rect x="168.53" y="273.17" width="8.21" height="6.05"/><rect x="172.02" y="274.27" width="8.21" height="6.05"/><rect x="175.52" y="275.28" width="8.21" height="6.05"/><rect x="179.01" y="276.21" width="8.21" height="6.05"/><rect x="182.50" y="277.08" width="8.21" height="6.05"/><rect x="186.00" y="277.91" width="8.21" height="6.05"/><rect x="189.49" y="278.71" width="8.21" height="6.05"/><rect x="192.98" y="279.48" width="8.21" height="6.05"/><rect x="196.48" y="280.26" width="8.21" height="6.05"/><rect x="199.97" y="281.05" width="8.21" height="6.05"/><rect x="203.47" y="281.84" width="8.21" height="6.05"/><rect x="206.96" y="282.64" width="8.21" height="6.05"/><rect x="210.45" y="283.44" width="8.21" height="6.05"/><rect x="213.95" y="284.25" width="8.21" height="6.05"/><rect x="217.44" y="285.06" width="8.21" height="6.05"/><rect x="220.93" y="285.87" width="8.21" height="6.05"/><rect x="224.43" y="286.67" width="8.21" height="6.05"/><rect x="227.92" y="287.47" width="8.21" height="6.05"/><rect x="231.41" y="288.26" width="8.21" height="6.05"/><rect x="234.91" y="289.04" width="8.21" height="6.05"/><rect x="238.40" y="289.82" width="8.21" height="6.05"/><rect x="241.89" y="290.58" width="8.21" height="6.05"/><rect x="245.39" y="291.32" width="8.21" height="6.05"/><rect x="248.88" y="292.06" width="8.21" height="6.05"/><rect x="252.37" y="292.77" width="8.21" height="6.05"/><rect x="255.87" y="293.46" width="8.21" height="6.05"/><rect x="259.36" y="294.14" width="8.21" height="6.05"/><rect x="262.85" y="294.79" width="8.21" height="6.05"/><rect x="266.35" y="295.42" width="8.21" height="6.05"/><rect x="269.84" y="296.02" width="8.21" height="6.05"/><rect x="273.33" y="296.60" width="8.21" height="6.05"/><rect x="276.83" y="297.16" width="8.21" height="6.05"/><rect x="280.32" y="297.69" width="8.21" height="6.05"/><rect x="283.81" y="298.19" width="8.21" height="6.05"/><rect x="287.31" y="298.67" width="8.21" height="6.05"/><rect x="290.80" y="299.12" width="8.21" height="6.05"/><rect x="294.29" y="299.55" width="8.21" height="6.05"/><rect x="297.79" y="299.94" width="8.21" height="6.05"/><rect x="301.28" y="300.31" width="8.21" height="6.05"/><rect x="304.77" y="300.65" width="8.21" height="6.05"/><rect x="308.27" y="300.95" width="8.21" height="6.05"/><rect x="311.76" y="301.23" width="8.21" height="6.05"/><rect x="315.25" y="301.47" width="8.21" height="6.05"/><rect x="318.75" y="301.69" width="8.21" height="6.05"/><rect x="322.24" y="301.86" width="8.21" height="6.05"/><rect x="325.73" y="302.01" width="8.21" height="6.05"/><rect x="329.23" y="302.12" width="8.21" height="6.05"/><rect x="332.72" y="302.20" width="8.21" height="6.05"/><rect x="336.21" y="302.24" width="8.21" height="6.05"/><rect x="339.71" y="302.24" width="8.21" height="6.05"/><rect x="343.20" y="302.21" width="8.21" height="6.05"/></g>
</g>
<g clip-path="url(#cc)">
<polyline points="88.79,201.60 92.29,201.60 95.78,201.60 99.27,201.60 102.77,201.60 106.26,201.60 109.75,208.30 113.25,223.40 116.74,233.70 120.23,239.30 123.73,243.20 127.22,247.70 130.71,250.82 134.21,253.80 137.70,256.63 141.19,259.31 144.69,261.81 148.18,264.14 151.67,266.27 155.17,268.22 158.66,269.99 162.15,271.59 165.65,273.05 169.14,274.38 172.63,275.59 176.13,276.70 179.62,277.72 183.12,278.66 186.61,279.54 190.10,280.38 193.60,281.18 197.09,281.97 200.58,282.75 204.08,283.55 207.57,284.34 211.06,285.15 214.56,285.96 218.05,286.77 221.54,287.58 225.04,288.39 228.53,289.19 232.02,289.99 235.52,290.79 239.01,291.57 242.50,292.34 246.00,293.11 249.49,293.85 252.98,294.58 256.48,295.30 259.97,295.99 263.46,296.66 266.96,297.31 270.45,297.94 273.94,298.55 277.44,299.13 280.93,299.68 284.42,300.21 287.92,300.72 291.41,301.20 294.90,301.65 298.40,302.07 301.89,302.47 305.38,302.83 308.88,303.17 312.37,303.48 315.86,303.75 319.36,304.00 322.85,304.21 326.34,304.39 329.84,304.53 333.33,304.64 336.82,304.72 340.32,304.76 343.81,304.77 347.31,304.74" fill="none" stroke="#00ff00" stroke-width="1.15" stroke-linejoin="round"/>
<g fill="#00ff00"><polygon points="88.79,197.50 91.71,201.60 88.79,205.70 85.88,201.60"/><polygon points="92.29,197.50 95.20,201.60 92.29,205.70 89.37,201.60"/><polygon points="95.78,197.50 98.70,201.60 95.78,205.70 92.86,201.60"/><polygon points="99.27,197.50 102.19,201.60 99.27,205.70 96.36,201.60"/><polygon points="102.77,197.50 105.68,201.60 102.77,205.70 99.85,201.60"/><polygon points="106.26,197.50 109.18,201.60 106.26,205.70 103.34,201.60"/><polygon points="109.75,204.20 112.67,208.30 109.75,212.40 106.84,208.30"/><polygon points="113.25,219.30 116.16,223.40 113.25,227.50 110.33,223.40"/><polygon points="116.74,229.60 119.66,233.70 116.74,237.80 113.82,233.70"/><polygon points="120.23,235.20 123.15,239.30 120.23,243.40 117.32,239.30"/><polygon points="123.73,239.10 126.64,243.20 123.73,247.30 120.81,243.20"/><polygon points="127.22,243.60 130.14,247.70 127.22,251.81 124.30,247.70"/><polygon points="130.71,246.72 133.63,250.82 130.71,254.92 127.80,250.82"/><polygon points="134.21,249.69 137.12,253.80 134.21,257.90 131.29,253.80"/><polygon points="137.70,252.53 140.62,256.63 137.70,260.74 134.78,256.63"/><polygon points="141.19,255.20 144.11,259.31 141.19,263.41 138.28,259.31"/><polygon points="144.69,257.71 147.60,261.81 144.69,265.92 141.77,261.81"/><polygon points="148.18,260.03 151.10,264.14 148.18,268.24 145.27,264.14"/><polygon points="151.67,262.17 154.59,266.27 151.67,270.38 148.76,266.27"/><polygon points="155.17,264.11 158.08,268.22 155.17,272.32 152.25,268.22"/><polygon points="158.66,265.88 161.58,269.99 158.66,274.09 155.75,269.99"/><polygon points="162.15,267.49 165.07,271.59 162.15,275.70 159.24,271.59"/><polygon points="165.65,268.95 168.56,273.05 165.65,277.16 162.73,273.05"/><polygon points="169.14,270.28 172.06,274.38 169.14,278.49 166.23,274.38"/><polygon points="172.63,271.49 175.55,275.59 172.63,279.70 169.72,275.59"/><polygon points="176.13,272.59 179.04,276.70 176.13,280.80 173.21,276.70"/><polygon points="179.62,273.61 182.54,277.72 179.62,281.82 176.71,277.72"/><polygon points="183.12,274.55 186.03,278.66 183.12,282.76 180.20,278.66"/><polygon points="186.61,275.44 189.52,279.54 186.61,283.64 183.69,279.54"/><polygon points="190.10,276.27 193.02,280.38 190.10,284.48 187.19,280.38"/><polygon points="193.60,277.08 196.51,281.18 193.60,285.28 190.68,281.18"/><polygon points="197.09,277.86 200.00,281.97 197.09,286.07 194.17,281.97"/><polygon points="200.58,278.65 203.50,282.75 200.58,286.86 197.67,282.75"/><polygon points="204.08,279.44 206.99,283.55 204.08,287.65 201.16,283.55"/><polygon points="207.57,280.24 210.49,284.34 207.57,288.45 204.65,284.34"/><polygon points="211.06,281.05 213.98,285.15 211.06,289.25 208.15,285.15"/><polygon points="214.56,281.85 217.47,285.96 214.56,290.06 211.64,285.96"/><polygon points="218.05,282.66 220.97,286.77 218.05,290.87 215.13,286.77"/><polygon points="221.54,283.47 224.46,287.58 221.54,291.68 218.63,287.58"/><polygon points="225.04,284.28 227.95,288.39 225.04,292.49 222.12,288.39"/><polygon points="228.53,285.09 231.45,289.19 228.53,293.30 225.61,289.19"/><polygon points="232.02,285.89 234.94,289.99 232.02,294.10 229.11,289.99"/><polygon points="235.52,286.68 238.43,290.79 235.52,294.89 232.60,290.79"/><polygon points="239.01,287.47 241.93,291.57 239.01,295.67 236.09,291.57"/><polygon points="242.50,288.24 245.42,292.34 242.50,296.45 239.59,292.34"/><polygon points="246.00,289.00 248.91,293.11 246.00,297.21 243.08,293.11"/><polygon points="249.49,289.75 252.41,293.85 249.49,297.96 246.57,293.85"/><polygon points="252.98,290.48 255.90,294.58 252.98,298.69 250.07,294.58"/><polygon points="256.48,291.19 259.39,295.30 256.48,299.40 253.56,295.30"/><polygon points="259.97,291.89 262.89,295.99 259.97,300.09 257.05,295.99"/><polygon points="263.46,292.56 266.38,296.66 263.46,300.77 260.55,296.66"/><polygon points="266.96,293.21 269.87,297.31 266.96,301.42 264.04,297.31"/><polygon points="270.45,293.84 273.37,297.94 270.45,302.04 267.53,297.94"/><polygon points="273.94,294.44 276.86,298.55 273.94,302.65 271.03,298.55"/><polygon points="277.44,295.02 280.35,299.13 277.44,303.23 274.52,299.13"/><polygon points="280.93,295.58 283.85,299.68 280.93,303.79 278.01,299.68"/><polygon points="284.42,296.11 287.34,300.21 284.42,304.32 281.51,300.21"/><polygon points="287.92,296.61 290.83,300.72 287.92,304.82 285.00,300.72"/><polygon points="291.41,297.09 294.33,301.20 291.41,305.30 288.49,301.20"/><polygon points="294.90,297.54 297.82,301.65 294.90,305.75 291.99,301.65"/><polygon points="298.40,297.97 301.31,302.07 298.40,306.18 295.48,302.07"/><polygon points="301.89,298.36 304.81,302.47 301.89,306.57 298.97,302.47"/><polygon points="305.38,298.73 308.30,302.83 305.38,306.94 302.47,302.83"/><polygon points="308.88,299.07 311.79,303.17 308.88,307.27 305.96,303.17"/><polygon points="312.37,299.37 315.29,303.48 312.37,307.58 309.45,303.48"/><polygon points="315.86,299.65 318.78,303.75 315.86,307.86 312.95,303.75"/><polygon points="319.36,299.89 322.27,304.00 319.36,308.10 316.44,304.00"/><polygon points="322.85,300.10 325.77,304.21 322.85,308.31 319.94,304.21"/><polygon points="326.34,300.28 329.26,304.39 326.34,308.49 323.43,304.39"/><polygon points="329.84,300.43 332.75,304.53 329.84,308.64 326.92,304.53"/><polygon points="333.33,300.54 336.25,304.64 333.33,308.75 330.42,304.64"/><polygon points="336.82,300.62 339.74,304.72 336.82,308.83 333.91,304.72"/><polygon points="340.32,300.66 343.23,304.76 340.32,308.87 337.40,304.76"/><polygon points="343.81,300.66 346.73,304.77 343.81,308.87 340.90,304.77"/><polygon points="347.31,300.63 350.22,304.74 347.31,308.84 344.39,304.74"/></g>
</g>
<g clip-path="url(#cc)">
<polyline points="88.79,205.30 92.29,205.30 95.78,205.30 99.27,205.30 102.77,205.30 106.26,214.00 109.75,227.40 113.25,235.30 116.74,240.00 120.23,242.50 123.73,245.85 127.22,249.20 130.71,252.30 134.21,255.18 137.70,257.89 141.19,260.44 144.69,262.86 148.18,265.17 151.67,267.40 155.17,269.56 158.66,271.66 162.15,273.70 165.65,275.69 169.14,277.62 172.63,279.51 176.13,281.36 179.62,283.18 183.12,284.95 186.61,286.71 190.10,288.43 193.60,290.14 197.09,291.83 200.58,293.51 204.08,295.18 207.57,296.84 211.06,298.49 214.56,300.12 218.05,301.73 221.54,303.31 225.04,304.87 228.53,306.39 232.02,307.88 235.52,309.34 239.01,310.75 242.50,312.12 246.00,313.44 249.49,314.72 252.98,315.94 256.48,317.10 259.97,318.20 263.46,319.24 266.96,320.22 270.45,321.14 273.94,322.00 277.44,322.81 280.93,323.56 284.42,324.27 287.92,324.92 291.41,325.53 294.90,326.09 298.40,326.61 301.89,327.09 305.38,327.52 308.88,327.93 312.37,328.29 315.86,328.63 319.36,328.93 322.85,329.20 326.34,329.45 329.84,329.67 333.33,329.87 336.82,330.05 340.32,330.21 343.81,330.35 347.31,330.48" fill="none" stroke="#87cefa" stroke-width="1.15" stroke-linejoin="round"/>
<g fill="#87cefa"><polygon points="92.36,205.30 85.23,202.06 85.23,208.54"/><polygon points="95.85,205.30 88.72,202.06 88.72,208.54"/><polygon points="99.34,205.30 92.22,202.06 92.22,208.54"/><polygon points="102.84,205.30 95.71,202.06 95.71,208.54"/><polygon points="106.33,205.30 99.20,202.06 99.20,208.54"/><polygon points="109.82,214.00 102.70,210.76 102.70,217.24"/><polygon points="113.32,227.40 106.19,224.16 106.19,230.64"/><polygon points="116.81,235.30 109.68,232.06 109.68,238.54"/><polygon points="120.30,240.00 113.18,236.76 113.18,243.24"/><polygon points="123.80,242.50 116.67,239.26 116.67,245.74"/><polygon points="127.29,245.85 120.16,242.61 120.16,249.09"/><polygon points="130.78,249.20 123.66,245.96 123.66,252.44"/><polygon points="134.28,252.30 127.15,249.06 127.15,255.54"/><polygon points="137.77,255.18 130.64,251.94 130.64,258.42"/><polygon points="141.26,257.89 134.14,254.65 134.14,261.13"/><polygon points="144.76,260.44 137.63,257.20 137.63,263.68"/><polygon points="148.25,262.86 141.12,259.62 141.12,266.10"/><polygon points="151.75,265.17 144.62,261.93 144.62,268.41"/><polygon points="155.24,267.40 148.11,264.16 148.11,270.64"/><polygon points="158.73,269.56 151.60,266.32 151.60,272.80"/><polygon points="162.23,271.66 155.10,268.42 155.10,274.90"/><polygon points="165.72,273.70 158.59,270.46 158.59,276.94"/><polygon points="169.21,275.69 162.08,272.45 162.08,278.93"/><polygon points="172.71,277.62 165.58,274.38 165.58,280.86"/><polygon points="176.20,279.51 169.07,276.27 169.07,282.75"/><polygon points="179.69,281.36 172.56,278.12 172.56,284.60"/><polygon points="183.19,283.18 176.06,279.94 176.06,286.42"/><polygon points="186.68,284.95 179.55,281.71 179.55,288.19"/><polygon points="190.17,286.71 183.04,283.47 183.04,289.95"/><polygon points="193.67,288.43 186.54,285.19 186.54,291.67"/><polygon points="197.16,290.14 190.03,286.90 190.03,293.38"/><polygon points="200.65,291.83 193.52,288.59 193.52,295.07"/><polygon points="204.15,293.51 197.02,290.27 197.02,296.75"/><polygon points="207.64,295.18 200.51,291.94 200.51,298.42"/><polygon points="211.13,296.84 204.01,293.60 204.01,300.08"/><polygon points="214.63,298.49 207.50,295.25 207.50,301.73"/><polygon points="218.12,300.12 210.99,296.88 210.99,303.36"/><polygon points="221.61,301.73 214.49,298.49 214.49,304.97"/><polygon points="225.11,303.31 217.98,300.07 217.98,306.55"/><polygon points="228.60,304.87 221.47,301.63 221.47,308.11"/><polygon points="232.09,306.39 224.97,303.15 224.97,309.63"/><polygon points="235.59,307.88 228.46,304.64 228.46,311.12"/><polygon points="239.08,309.34 231.95,306.10 231.95,312.58"/><polygon points="242.57,310.75 235.45,307.51 235.45,313.99"/><polygon points="246.07,312.12 238.94,308.88 238.94,315.36"/><polygon points="249.56,313.44 242.43,310.20 242.43,316.68"/><polygon points="253.05,314.72 245.93,311.48 245.93,317.96"/><polygon points="256.55,315.94 249.42,312.70 249.42,319.18"/><polygon points="260.04,317.10 252.91,313.86 252.91,320.34"/><polygon points="263.53,318.20 256.41,314.96 256.41,321.44"/><polygon points="267.03,319.24 259.90,316.00 259.90,322.48"/><polygon points="270.52,320.22 263.39,316.98 263.39,323.46"/><polygon points="274.01,321.14 266.89,317.90 266.89,324.38"/><polygon points="277.51,322.00 270.38,318.76 270.38,325.24"/><polygon points="281.00,322.81 273.87,319.57 273.87,326.05"/><polygon points="284.49,323.56 277.37,320.32 277.37,326.80"/><polygon points="287.99,324.27 280.86,321.03 280.86,327.51"/><polygon points="291.48,324.92 284.35,321.68 284.35,328.16"/><polygon points="294.97,325.53 287.85,322.29 287.85,328.77"/><polygon points="298.47,326.09 291.34,322.85 291.34,329.33"/><polygon points="301.96,326.61 294.83,323.37 294.83,329.85"/><polygon points="305.45,327.09 298.33,323.85 298.33,330.33"/><polygon points="308.95,327.52 301.82,324.28 301.82,330.76"/><polygon points="312.44,327.93 305.31,324.69 305.31,331.17"/><polygon points="315.94,328.29 308.81,325.05 308.81,331.53"/><polygon points="319.43,328.63 312.30,325.39 312.30,331.87"/><polygon points="322.92,328.93 315.79,325.69 315.79,332.17"/><polygon points="326.42,329.20 319.29,325.96 319.29,332.44"/><polygon points="329.91,329.45 322.78,326.21 322.78,332.69"/><polygon points="333.40,329.67 326.27,326.43 326.27,332.91"/><polygon points="336.90,329.87 329.77,326.63 329.77,333.11"/><polygon points="340.39,330.05 333.26,326.81 333.26,333.29"/><polygon points="343.88,330.21 336.75,326.97 336.75,333.45"/><polygon points="347.38,330.35 340.25,327.11 340.25,333.59"/><polygon points="350.87,330.48 343.74,327.24 343.74,333.72"/></g>
</g>
<g clip-path="url(#cb)">
<polyline points="417.10,66.10 459.73,106.50 484.66,136.30 502.35,152.10 516.07,159.50 527.29,162.50 536.77,163.50 544.98,164.00 552.22,163.99 558.70,163.98 564.56,163.97 569.91,163.97 574.83,163.96 579.39,163.96 583.63,163.95 587.60,163.95 591.33,163.94 594.85,163.94 598.17,163.93 601.33,163.93 604.33,163.92 607.19,163.92 609.92,163.92 612.54,163.91 615.05,163.91 617.46,163.91 619.78,163.90 622.02,163.90 624.18,163.90 626.26,163.90 628.28,163.89 630.23,163.89 632.12,163.89 633.96,163.89 635.74,163.88 637.47,163.88 639.16,163.88 640.80,163.88 642.39,163.87 643.95,163.87 645.47,163.87 646.95,163.87 648.40,163.87 649.81,163.87 651.19,163.86 652.55,163.86 653.87,163.86 655.16,163.86 656.43,163.86 657.67,163.85 658.89,163.85 660.09,163.85 661.26,163.85 662.41,163.85 663.54,163.85 664.64,163.85 665.73,163.84 666.80,163.84 667.85,163.84 668.89,163.84 669.90,163.84 670.90,163.84 671.89,163.84 672.86,163.84 673.81,163.83 674.75,163.83 675.67,163.83 676.58,163.83 677.48,163.83 678.37,163.83 679.24,163.83 680.10,163.83 680.95,163.82 681.78,163.82 682.61,163.82 683.42,163.82 684.23,163.82 685.02,163.82 685.80,163.82 686.58,163.82 687.34,163.82 688.10,163.82 688.84,163.81 689.58,163.81 690.31,163.81 691.02,163.81 691.74,163.81 692.44,163.81 693.13,163.81 693.82,163.81 694.50,163.81 695.17,163.81 695.84,163.81 696.49,163.80 697.15,163.80 697.79,163.80 698.43,163.80 699.06,163.80 699.68,163.80 700.30,163.80" fill="none" stroke="#ff1493" stroke-width="1.3" stroke-linejoin="round"/>
<g fill="#ff1493"><polygon points="417.10,62.90 420.80,65.34 419.38,69.30 414.82,69.30 413.40,65.34"/><polygon points="459.73,103.30 463.42,105.74 462.01,109.70 457.44,109.70 456.03,105.74"/><polygon points="484.66,133.10 488.36,135.54 486.94,139.50 482.38,139.50 480.96,135.54"/><polygon points="502.35,148.90 506.05,151.34 504.64,155.30 500.07,155.30 498.66,151.34"/><polygon points="516.07,156.30 519.77,158.74 518.36,162.70 513.79,162.70 512.38,158.74"/><polygon points="527.29,159.30 530.98,161.74 529.57,165.70 525.00,165.70 523.59,161.74"/><polygon points="536.77,160.30 540.46,162.74 539.05,166.70 534.48,166.70 533.07,162.74"/><polygon points="544.98,160.80 548.67,163.24 547.26,167.20 542.69,167.20 541.28,163.24"/><polygon points="552.22,160.79 555.92,163.23 554.51,167.19 549.94,167.19 548.52,163.23"/><polygon points="558.70,160.78 562.40,163.23 560.98,167.19 556.42,167.19 555.00,163.23"/><polygon points="564.56,160.77 568.26,163.22 566.85,167.18 562.28,167.18 560.86,163.22"/><polygon points="569.91,160.76 573.61,163.21 572.20,167.17 567.63,167.17 566.22,163.21"/><polygon points="574.83,160.76 578.53,163.21 577.12,167.16 572.55,167.16 571.14,163.21"/><polygon points="579.39,160.75 583.09,163.20 581.68,167.16 577.11,167.16 575.70,163.20"/><polygon points="583.63,160.75 587.33,163.19 585.92,167.15 581.35,167.15 579.94,163.19"/><polygon points="587.60,160.74 591.30,163.19 589.89,167.15 585.32,167.15 583.91,163.19"/><polygon points="591.33,160.74 595.03,163.18 593.62,167.14 589.05,167.14 587.64,163.18"/><polygon points="594.85,160.73 598.54,163.18 597.13,167.14 592.56,167.14 591.15,163.18"/><polygon points="598.17,160.73 601.87,163.18 600.46,167.13 595.89,167.13 594.48,163.18"/><polygon points="601.33,160.72 605.02,163.17 603.61,167.13 599.04,167.13 597.63,163.17"/><polygon points="604.33,160.72 608.02,163.17 606.61,167.13 602.04,167.13 600.63,163.17"/><polygon points="607.19,160.72 610.88,163.16 609.47,167.12 604.90,167.12 603.49,163.16"/><polygon points="609.92,160.71 613.62,163.16 612.21,167.12 607.64,167.12 606.22,163.16"/><polygon points="612.54,160.71 616.23,163.16 614.82,167.12 610.25,167.12 608.84,163.16"/><polygon points="615.05,160.71 618.74,163.15 617.33,167.11 612.76,167.11 611.35,163.15"/><polygon points="617.46,160.70 621.16,163.15 619.74,167.11 615.18,167.11 613.76,163.15"/><polygon points="619.78,160.70 623.48,163.15 622.07,167.11 617.50,167.11 616.08,163.15"/><polygon points="622.02,160.70 625.71,163.14 624.30,167.10 619.73,167.10 618.32,163.14"/><polygon points="624.18,160.69 627.87,163.14 626.46,167.10 621.89,167.10 620.48,163.14"/><polygon points="626.26,160.69 629.96,163.14 628.54,167.10 623.98,167.10 622.56,163.14"/><polygon points="628.28,160.69 631.97,163.14 630.56,167.10 625.99,167.10 624.58,163.14"/><polygon points="630.23,160.69 633.93,163.13 632.51,167.09 627.94,167.09 626.53,163.13"/><polygon points="632.12,160.68 635.82,163.13 634.41,167.09 629.84,167.09 628.43,163.13"/><polygon points="633.96,160.68 637.65,163.13 636.24,167.09 631.67,167.09 630.26,163.13"/><polygon points="635.74,160.68 639.44,163.13 638.02,167.09 633.46,167.09 632.04,163.13"/><polygon points="637.47,160.68 641.17,163.12 639.76,167.08 635.19,167.08 633.78,163.12"/><polygon points="639.16,160.68 642.85,163.12 641.44,167.08 636.87,167.08 635.46,163.12"/><polygon points="640.80,160.67 644.49,163.12 643.08,167.08 638.51,167.08 637.10,163.12"/><polygon points="642.39,160.67 646.09,163.12 644.68,167.08 640.11,167.08 638.70,163.12"/><polygon points="643.95,160.67 647.65,163.12 646.24,167.08 641.67,167.08 640.26,163.12"/><polygon points="645.47,160.67 649.17,163.11 647.75,167.07 643.19,167.07 641.77,163.11"/><polygon points="646.95,160.67 650.65,163.11 649.24,167.07 644.67,167.07 643.26,163.11"/><polygon points="648.40,160.66 652.10,163.11 650.68,167.07 646.11,167.07 644.70,163.11"/><polygon points="649.81,160.66 653.51,163.11 652.10,167.07 647.53,167.07 646.12,163.11"/><polygon points="651.19,160.66 654.89,163.11 653.48,167.07 648.91,167.07 647.50,163.11"/><polygon points="652.55,160.66 656.24,163.11 654.83,167.06 650.26,167.06 648.85,163.11"/><polygon points="653.87,160.66 657.57,163.10 656.15,167.06 651.58,167.06 650.17,163.10"/><polygon points="655.16,160.65 658.86,163.10 657.45,167.06 652.88,167.06 651.47,163.10"/><polygon points="656.43,160.65 660.13,163.10 658.72,167.06 654.15,167.06 652.74,163.10"/><polygon points="657.67,160.65 661.37,163.10 659.96,167.06 655.39,167.06 653.98,163.10"/><polygon points="658.89,160.65 662.59,163.10 661.18,167.06 656.61,167.06 655.20,163.10"/><polygon points="660.09,160.65 663.78,163.10 662.37,167.06 657.80,167.06 656.39,163.10"/><polygon points="661.26,160.65 664.95,163.09 663.54,167.05 658.97,167.05 657.56,163.09"/><polygon points="662.41,160.65 666.10,163.09 664.69,167.05 660.12,167.05 658.71,163.09"/><polygon points="663.54,160.64 667.23,163.09 665.82,167.05 661.25,167.05 659.84,163.09"/><polygon points="664.64,160.64 668.34,163.09 666.93,167.05 662.36,167.05 660.95,163.09"/><polygon points="665.73,160.64 669.43,163.09 668.02,167.05 663.45,167.05 662.04,163.09"/><polygon points="666.80,160.64 670.50,163.09 669.09,167.05 664.52,167.05 663.11,163.09"/><polygon points="667.85,160.64 671.55,163.09 670.14,167.05 665.57,167.05 664.16,163.09"/><polygon points="668.89,160.64 672.58,163.08 671.17,167.04 666.60,167.04 665.19,163.08"/><polygon points="669.90,160.64 673.60,163.08 672.19,167.04 667.62,167.04 666.21,163.08"/><polygon points="670.90,160.63 674.60,163.08 673.19,167.04 668.62,167.04 667.21,163.08"/><polygon points="671.89,160.63 675.58,163.08 674.17,167.04 669.60,167.04 668.19,163.08"/><polygon points="672.86,160.63 676.55,163.08 675.14,167.04 670.57,167.04 669.16,163.08"/><polygon points="673.81,160.63 677.50,163.08 676.09,167.04 671.52,167.04 670.11,163.08"/><polygon points="674.75,160.63 678.44,163.08 677.03,167.04 672.46,167.04 671.05,163.08"/><polygon points="675.67,160.63 679.37,163.08 677.96,167.03 673.39,167.03 671.98,163.08"/><polygon points="676.58,160.63 680.28,163.07 678.87,167.03 674.30,167.03 672.89,163.07"/><polygon points="677.48,160.63 681.18,163.07 679.77,167.03 675.20,167.03 673.78,163.07"/><polygon points="678.37,160.63 682.06,163.07 680.65,167.03 676.08,167.03 674.67,163.07"/><polygon points="679.24,160.62 682.93,163.07 681.52,167.03 676.95,167.03 675.54,163.07"/><polygon points="680.10,160.62 683.79,163.07 682.38,167.03 677.81,167.03 676.40,163.07"/><polygon points="680.95,160.62 684.64,163.07 683.23,167.03 678.66,167.03 677.25,163.07"/><polygon points="681.78,160.62 685.48,163.07 684.07,167.03 679.50,167.03 678.09,163.07"/><polygon points="682.61,160.62 686.30,163.07 684.89,167.03 680.32,167.03 678.91,163.07"/><polygon points="683.42,160.62 687.12,163.07 685.71,167.02 681.14,167.02 679.73,163.07"/><polygon points="684.23,160.62 687.92,163.06 686.51,167.02 681.94,167.02 680.53,163.06"/><polygon points="685.02,160.62 688.72,163.06 687.30,167.02 682.74,167.02 681.32,163.06"/><polygon points="685.80,160.62 689.50,163.06 688.09,167.02 683.52,167.02 682.11,163.06"/><polygon points="686.58,160.61 690.27,163.06 688.86,167.02 684.29,167.02 682.88,163.06"/><polygon points="687.34,160.61 691.04,163.06 689.63,167.02 685.06,167.02 683.65,163.06"/><polygon points="688.10,160.61 691.79,163.06 690.38,167.02 685.81,167.02 684.40,163.06"/><polygon points="688.84,160.61 692.54,163.06 691.13,167.02 686.56,167.02 685.15,163.06"/><polygon points="689.58,160.61 693.27,163.06 691.86,167.02 687.29,167.02 685.88,163.06"/><polygon points="690.31,160.61 694.00,163.06 692.59,167.02 688.02,167.02 686.61,163.06"/><polygon points="691.02,160.61 694.72,163.06 693.31,167.02 688.74,167.02 687.33,163.06"/><polygon points="691.74,160.61 695.43,163.05 694.02,167.01 689.45,167.01 688.04,163.05"/><polygon points="692.44,160.61 696.13,163.05 694.72,167.01 690.15,167.01 688.74,163.05"/><polygon points="693.13,160.61 696.83,163.05 695.42,167.01 690.85,167.01 689.44,163.05"/><polygon points="693.82,160.61 697.52,163.05 696.11,167.01 691.54,167.01 690.12,163.05"/><polygon points="694.50,160.60 698.20,163.05 696.78,167.01 692.22,167.01 690.80,163.05"/><polygon points="695.17,160.60 698.87,163.05 697.46,167.01 692.89,167.01 691.48,163.05"/><polygon points="695.84,160.60 699.53,163.05 698.12,167.01 693.55,167.01 692.14,163.05"/><polygon points="696.49,160.60 700.19,163.05 698.78,167.01 694.21,167.01 692.80,163.05"/><polygon points="697.15,160.60 700.84,163.05 699.43,167.01 694.86,167.01 693.45,163.05"/><polygon points="697.79,160.60 701.49,163.05 700.07,167.01 695.51,167.01 694.09,163.05"/><polygon points="698.43,160.60 702.12,163.05 700.71,167.01 696.14,167.01 694.73,163.05"/><polygon points="699.06,160.60 702.75,163.05 701.34,167.00 696.77,167.00 695.36,163.05"/><polygon points="699.68,160.60 703.38,163.04 701.97,167.00 697.40,167.00 695.99,163.04"/><polygon points="700.30,160.60 704.00,163.04 702.58,167.00 698.02,167.00 696.60,163.04"/></g>
</g>
<g clip-path="url(#cb)">
<polyline points="417.10,34.80 459.73,41.80 484.66,50.20 502.35,59.10 516.07,69.70 527.29,79.30 536.77,88.60 544.98,96.60 552.22,103.40 558.70,108.70 564.56,112.90 569.91,115.60 574.83,119.15 579.39,122.12 583.63,123.67 587.60,125.12 591.33,126.48 594.85,127.76 598.17,128.79 601.33,129.48 604.33,130.14 607.19,130.77 609.92,131.37 612.54,131.94 615.05,132.49 617.46,132.74 619.78,132.91 622.02,133.07 624.18,133.23 626.26,133.38 628.28,133.53 630.23,133.67 632.12,133.81 633.96,133.94 635.74,134.07 637.47,134.20 639.16,134.20 640.80,134.20 642.39,134.20 643.95,134.20 645.47,134.20 646.95,134.20 648.40,134.20 649.81,134.20 651.19,134.20 652.55,134.20 653.87,134.20 655.16,134.20 656.43,134.20 657.67,134.20 658.89,134.20 660.09,134.20 661.26,134.20 662.41,134.20 663.54,134.20 664.64,134.20 665.73,134.20 666.80,134.20 667.85,134.20 668.89,134.20 669.90,134.20 670.90,134.20 671.89,134.20 672.86,134.20 673.81,134.20 674.75,134.20 675.67,134.20 676.58,134.20 677.48,134.20 678.37,134.20 679.24,134.20 680.10,134.20 680.95,134.20 681.78,134.20 682.61,134.20 683.42,134.20 684.23,134.20 685.02,134.20 685.80,134.20 686.58,134.20 687.34,134.20 688.10,134.20 688.84,134.20 689.58,134.20 690.31,134.20 691.02,134.20 691.74,134.20 692.44,134.20 693.13,134.20 693.82,134.20 694.50,134.20 695.17,134.20 695.84,134.20 696.49,134.20 697.15,134.20 697.79,134.20 698.43,134.20 699.06,134.20 699.68,134.20 700.30,134.20" fill="none" stroke="#000000" stroke-width="1.3" stroke-linejoin="round"/>
<g fill="#000000"><rect x="412.92" y="31.72" width="8.36" height="6.16"/><rect x="455.55" y="38.72" width="8.36" height="6.16"/><rect x="480.48" y="47.12" width="8.36" height="6.16"/><rect x="498.17" y="56.02" width="8.36" height="6.16"/><rect x="511.89" y="66.62" width="8.36" height="6.16"/><rect x="523.11" y="76.22" width="8.36" height="6.16"/><rect x="532.59" y="85.52" width="8.36" height="6.16"/><rect x="540.80" y="93.52" width="8.36" height="6.16"/><rect x="548.04" y="100.32" width="8.36" height="6.16"/><rect x="554.52" y="105.62" width="8.36" height="6.16"/><rect x="560.38" y="109.82" width="8.36" height="6.16"/><rect x="565.73" y="112.52" width="8.36" height="6.16"/><rect x="570.65" y="116.07" width="8.36" height="6.16"/><rect x="575.21" y="119.04" width="8.36" height="6.16"/><rect x="579.45" y="120.59" width="8.36" height="6.16"/><rect x="583.42" y="122.04" width="8.36" height="6.16"/><rect x="587.15" y="123.40" width="8.36" height="6.16"/><rect x="590.67" y="124.68" width="8.36" height="6.16"/><rect x="593.99" y="125.71" width="8.36" height="6.16"/><rect x="597.15" y="126.40" width="8.36" height="6.16"/><rect x="600.15" y="127.06" width="8.36" height="6.16"/><rect x="603.01" y="127.69" width="8.36" height="6.16"/><rect x="605.74" y="128.29" width="8.36" height="6.16"/><rect x="608.36" y="128.86" width="8.36" height="6.16"/><rect x="610.87" y="129.41" width="8.36" height="6.16"/><rect x="613.28" y="129.66" width="8.36" height="6.16"/><rect x="615.60" y="129.83" width="8.36" height="6.16"/><rect x="617.84" y="129.99" width="8.36" height="6.16"/><rect x="620.00" y="130.15" width="8.36" height="6.16"/><rect x="622.08" y="130.30" width="8.36" height="6.16"/><rect x="624.10" y="130.45" width="8.36" height="6.16"/><rect x="626.05" y="130.59" width="8.36" height="6.16"/><rect x="627.94" y="130.73" width="8.36" height="6.16"/><rect x="629.78" y="130.86" width="8.36" height="6.16"/><rect x="631.56" y="130.99" width="8.36" height="6.16"/><rect x="633.29" y="131.12" width="8.36" height="6.16"/><rect x="634.98" y="131.12" width="8.36" height="6.16"/><rect x="636.62" y="131.12" width="8.36" height="6.16"/><rect x="638.21" y="131.12" width="8.36" height="6.16"/><rect x="639.77" y="131.12" width="8.36" height="6.16"/><rect x="641.29" y="131.12" width="8.36" height="6.16"/><rect x="642.77" y="131.12" width="8.36" height="6.16"/><rect x="644.22" y="131.12" width="8.36" height="6.16"/><rect x="645.63" y="131.12" width="8.36" height="6.16"/><rect x="647.01" y="131.12" width="8.36" height="6.16"/><rect x="648.37" y="131.12" width="8.36" height="6.16"/><rect x="649.69" y="131.12" width="8.36" height="6.16"/><rect x="650.98" y="131.12" width="8.36" height="6.16"/><rect x="652.25" y="131.12" width="8.36" height="6.16"/><rect x="653.49" y="131.12" width="8.36" height="6.16"/><rect x="654.71" y="131.12" width="8.36" height="6.16"/><rect x="655.91" y="131.12" width="8.36" height="6.16"/><rect x="657.08" y="131.12" width="8.36" height="6.16"/><rect x="658.23" y="131.12" width="8.36" height="6.16"/><rect x="659.36" y="131.12" width="8.36" height="6.16"/><rect x="660.46" y="131.12" width="8.36" height="6.16"/><rect x="661.55" y="131.12" width="8.36" height="6.16"/><rect x="662.62" y="131.12" width="8.36" height="6.16"/><rect x="663.67" y="131.12" width="8.36" height="6.16"/><rect x="664.71" y="131.12" width="8.36" height="6.16"/><rect x="665.72" y="131.12" width="8.36" height="6.16"/><rect x="666.72" y="131.12" width="8.36" height="6.16"/><rect x="667.71" y="131.12" width="8.36" height="6.16"/><rect x="668.68" y="131.12" width="8.36" height="6.16"/><rect x="669.63" y="131.12" width="8.36" height="6.16"/><rect x="670.57" y="131.12" width="8.36" height="6.16"/><rect x="671.49" y="131.12" width="8.36" height="6.16"/><rect x="672.40" y="131.12" width="8.36" height="6.16"/><rect x="673.30" y="131.12" width="8.36" height="6.16"/><rect x="674.19" y="131.12" width="8.36" height="6.16"/><rect x="675.06" y="131.12" width="8.36" height="6.16"/><rect x="675.92" y="131.12" width="8.36" height="6.16"/><rect x="676.77" y="131.12" width="8.36" height="6.16"/><rect x="677.60" y="131.12" width="8.36" height="6.16"/><rect x="678.43" y="131.12" width="8.36" height="6.16"/><rect x="679.24" y="131.12" width="8.36" height="6.16"/><rect x="680.05" y="131.12" width="8.36" height="6.16"/><rect x="680.84" y="131.12" width="8.36" height="6.16"/><rect x="681.62" y="131.12" width="8.36" height="6.16"/><rect x="682.40" y="131.12" width="8.36" height="6.16"/><rect x="683.16" y="131.12" width="8.36" height="6.16"/><rect x="683.92" y="131.12" width="8.36" height="6.16"/><rect x="684.66" y="131.12" width="8.36" height="6.16"/><rect x="685.40" y="131.12" width="8.36" height="6.16"/><rect x="686.13" y="131.12" width="8.36" height="6.16"/><rect x="686.84" y="131.12" width="8.36" height="6.16"/><rect x="687.56" y="131.12" width="8.36" height="6.16"/><rect x="688.26" y="131.12" width="8.36" height="6.16"/><rect x="688.95" y="131.12" width="8.36" height="6.16"/><rect x="689.64" y="131.12" width="8.36" height="6.16"/><rect x="690.32" y="131.12" width="8.36" height="6.16"/><rect x="690.99" y="131.12" width="8.36" height="6.16"/><rect x="691.66" y="131.12" width="8.36" height="6.16"/><rect x="692.31" y="131.12" width="8.36" height="6.16"/><rect x="692.97" y="131.12" width="8.36" height="6.16"/><rect x="693.61" y="131.12" width="8.36" height="6.16"/><rect x="694.25" y="131.12" width="8.36" height="6.16"/><rect x="694.88" y="131.12" width="8.36" height="6.16"/><rect x="695.50" y="131.12" width="8.36" height="6.16"/><rect x="696.12" y="131.12" width="8.36" height="6.16"/></g>
</g>
<g clip-path="url(#cb)">
<polyline points="417.10,29.50 459.73,32.70 484.66,35.80 502.35,41.10 516.07,47.90 527.29,55.85 536.77,64.90 544.98,73.40 552.22,82.30 558.70,89.70 564.56,95.40 569.91,100.80 574.83,104.40 579.39,109.91 583.63,112.85 587.60,115.59 591.33,118.17 594.85,120.60 598.17,122.51 601.33,123.74 604.33,124.92 607.19,126.04 609.92,127.10 612.54,128.13 615.05,129.11 617.46,129.61 619.78,129.98 622.02,130.33 624.18,130.68 626.26,131.01 628.28,131.33 630.23,131.64 632.12,131.95 633.96,132.24 635.74,132.52 637.47,132.80 639.16,132.88 640.80,132.96 642.39,133.04 643.95,133.12 645.47,133.20 646.95,133.27 648.40,133.34 649.81,133.41 651.19,133.48 652.55,133.55 653.87,133.61 655.16,133.68 656.43,133.74 657.67,133.80 658.89,133.80 660.09,133.80 661.26,133.80 662.41,133.80 663.54,133.80 664.64,133.80 665.73,133.80 666.80,133.80 667.85,133.80 668.89,133.80 669.90,133.80 670.90,133.80 671.89,133.80 672.86,133.80 673.81,133.80 674.75,133.80 675.67,133.80 676.58,133.80 677.48,133.80 678.37,133.80 679.24,133.80 680.10,133.80 680.95,133.80 681.78,133.80 682.61,133.80 683.42,133.80 684.23,133.80 685.02,133.80 685.80,133.80 686.58,133.80 687.34,133.80 688.10,133.80 688.84,133.80 689.58,133.80 690.31,133.80 691.02,133.80 691.74,133.80 692.44,133.80 693.13,133.80 693.82,133.80 694.50,133.80 695.17,133.80 695.84,133.80 696.49,133.80 697.15,133.80 697.79,133.80 698.43,133.80 699.06,133.80 699.68,133.80 700.30,133.80" fill="none" stroke="#00ff00" stroke-width="1.3" stroke-linejoin="round"/>
<g fill="#00ff00"><polygon points="417.10,25.32 420.07,29.50 417.10,33.68 414.13,29.50"/><polygon points="459.73,28.52 462.70,32.70 459.73,36.88 456.76,32.70"/><polygon points="484.66,31.62 487.63,35.80 484.66,39.98 481.69,35.80"/><polygon points="502.35,36.92 505.32,41.10 502.35,45.28 499.38,41.10"/><polygon points="516.07,43.72 519.04,47.90 516.07,52.08 513.10,47.90"/><polygon points="527.29,51.67 530.26,55.85 527.29,60.03 524.32,55.85"/><polygon points="536.77,60.72 539.74,64.90 536.77,69.08 533.80,64.90"/><polygon points="544.98,69.22 547.95,73.40 544.98,77.58 542.01,73.40"/><polygon points="552.22,78.12 555.19,82.30 552.22,86.48 549.25,82.30"/><polygon points="558.70,85.52 561.67,89.70 558.70,93.88 555.73,89.70"/><polygon points="564.56,91.22 567.53,95.40 564.56,99.58 561.59,95.40"/><polygon points="569.91,96.62 572.88,100.80 569.91,104.98 566.94,100.80"/><polygon points="574.83,100.22 577.80,104.40 574.83,108.58 571.86,104.40"/><polygon points="579.39,105.73 582.36,109.91 579.39,114.09 576.42,109.91"/><polygon points="583.63,108.67 586.60,112.85 583.63,117.03 580.66,112.85"/><polygon points="587.60,111.41 590.57,115.59 587.60,119.77 584.63,115.59"/><polygon points="591.33,113.99 594.30,118.17 591.33,122.35 588.36,118.17"/><polygon points="594.85,116.42 597.82,120.60 594.85,124.78 591.88,120.60"/><polygon points="598.17,118.33 601.14,122.51 598.17,126.69 595.20,122.51"/><polygon points="601.33,119.56 604.30,123.74 601.33,127.92 598.36,123.74"/><polygon points="604.33,120.74 607.30,124.92 604.33,129.10 601.36,124.92"/><polygon points="607.19,121.86 610.16,126.04 607.19,130.22 604.22,126.04"/><polygon points="609.92,122.92 612.89,127.10 609.92,131.28 606.95,127.10"/><polygon points="612.54,123.95 615.51,128.13 612.54,132.31 609.57,128.13"/><polygon points="615.05,124.93 618.02,129.11 615.05,133.29 612.08,129.11"/><polygon points="617.46,125.43 620.43,129.61 617.46,133.79 614.49,129.61"/><polygon points="619.78,125.80 622.75,129.98 619.78,134.16 616.81,129.98"/><polygon points="622.02,126.15 624.99,130.33 622.02,134.51 619.05,130.33"/><polygon points="624.18,126.50 627.15,130.68 624.18,134.86 621.21,130.68"/><polygon points="626.26,126.83 629.23,131.01 626.26,135.19 623.29,131.01"/><polygon points="628.28,127.15 631.25,131.33 628.28,135.51 625.31,131.33"/><polygon points="630.23,127.46 633.20,131.64 630.23,135.82 627.26,131.64"/><polygon points="632.12,127.77 635.09,131.95 632.12,136.13 629.15,131.95"/><polygon points="633.96,128.06 636.93,132.24 633.96,136.42 630.99,132.24"/><polygon points="635.74,128.34 638.71,132.52 635.74,136.70 632.77,132.52"/><polygon points="637.47,128.62 640.44,132.80 637.47,136.98 634.50,132.80"/><polygon points="639.16,128.70 642.13,132.88 639.16,137.06 636.19,132.88"/><polygon points="640.80,128.78 643.77,132.96 640.80,137.14 637.83,132.96"/><polygon points="642.39,128.86 645.36,133.04 642.39,137.22 639.42,133.04"/><polygon points="643.95,128.94 646.92,133.12 643.95,137.30 640.98,133.12"/><polygon points="645.47,129.02 648.44,133.20 645.47,137.38 642.50,133.20"/><polygon points="646.95,129.09 649.92,133.27 646.95,137.45 643.98,133.27"/><polygon points="648.40,129.16 651.37,133.34 648.40,137.52 645.43,133.34"/><polygon points="649.81,129.23 652.78,133.41 649.81,137.59 646.84,133.41"/><polygon points="651.19,129.30 654.16,133.48 651.19,137.66 648.22,133.48"/><polygon points="652.55,129.37 655.52,133.55 652.55,137.73 649.58,133.55"/><polygon points="653.87,129.43 656.84,133.61 653.87,137.79 650.90,133.61"/><polygon points="655.16,129.50 658.13,133.68 655.16,137.86 652.19,133.68"/><polygon points="656.43,129.56 659.40,133.74 656.43,137.92 653.46,133.74"/><polygon points="657.67,129.62 660.64,133.80 657.67,137.98 654.70,133.80"/><polygon points="658.89,129.62 661.86,133.80 658.89,137.98 655.92,133.80"/><polygon points="660.09,129.62 663.06,133.80 660.09,137.98 657.12,133.80"/><polygon points="661.26,129.62 664.23,133.80 661.26,137.98 658.29,133.80"/><polygon points="662.41,129.62 665.38,133.80 662.41,137.98 659.44,133.80"/><polygon points="663.54,129.62 666.51,133.80 663.54,137.98 660.57,133.80"/><polygon points="664.64,129.62 667.61,133.80 664.64,137.98 661.67,133.80"/><polygon points="665.73,129.62 668.70,133.80 665.73,137.98 662.76,133.80"/><polygon points="666.80,129.62 669.77,133.80 666.80,137.98 663.83,133.80"/><polygon points="667.85,129.62 670.82,133.80 667.85,137.98 664.88,133.80"/><polygon points="668.89,129.62 671.86,133.80 668.89,137.98 665.92,133.80"/><polygon points="669.90,129.62 672.87,133.80 669.90,137.98 666.93,133.80"/><polygon points="670.90,129.62 673.87,133.80 670.90,137.98 667.93,133.80"/><polygon points="671.89,129.62 674.86,133.80 671.89,137.98 668.92,133.80"/><polygon points="672.86,129.62 675.83,133.80 672.86,137.98 669.89,133.80"/><polygon points="673.81,129.62 676.78,133.80 673.81,137.98 670.84,133.80"/><polygon points="674.75,129.62 677.72,133.80 674.75,137.98 671.78,133.80"/><polygon points="675.67,129.62 678.64,133.80 675.67,137.98 672.70,133.80"/><polygon points="676.58,129.62 679.55,133.80 676.58,137.98 673.61,133.80"/><polygon points="677.48,129.62 680.45,133.80 677.48,137.98 674.51,133.80"/><polygon points="678.37,129.62 681.34,133.80 678.37,137.98 675.40,133.80"/><polygon points="679.24,129.62 682.21,133.80 679.24,137.98 676.27,133.80"/><polygon points="680.10,129.62 683.07,133.80 680.10,137.98 677.13,133.80"/><polygon points="680.95,129.62 683.92,133.80 680.95,137.98 677.98,133.80"/><polygon points="681.78,129.62 684.75,133.80 681.78,137.98 678.81,133.80"/><polygon points="682.61,129.62 685.58,133.80 682.61,137.98 679.64,133.80"/><polygon points="683.42,129.62 686.39,133.80 683.42,137.98 680.45,133.80"/><polygon points="684.23,129.62 687.20,133.80 684.23,137.98 681.26,133.80"/><polygon points="685.02,129.62 687.99,133.80 685.02,137.98 682.05,133.80"/><polygon points="685.80,129.62 688.77,133.80 685.80,137.98 682.83,133.80"/><polygon points="686.58,129.62 689.55,133.80 686.58,137.98 683.61,133.80"/><polygon points="687.34,129.62 690.31,133.80 687.34,137.98 684.37,133.80"/><polygon points="688.10,129.62 691.07,133.80 688.10,137.98 685.13,133.80"/><polygon points="688.84,129.62 691.81,133.80 688.84,137.98 685.87,133.80"/><polygon points="689.58,129.62 692.55,133.80 689.58,137.98 686.61,133.80"/><polygon points="690.31,129.62 693.28,133.80 690.31,137.98 687.34,133.80"/><polygon points="691.02,129.62 693.99,133.80 691.02,137.98 688.05,133.80"/><polygon points="691.74,129.62 694.71,133.80 691.74,137.98 688.77,133.80"/><polygon points="692.44,129.62 695.41,133.80 692.44,137.98 689.47,133.80"/><polygon points="693.13,129.62 696.10,133.80 693.13,137.98 690.16,133.80"/><polygon points="693.82,129.62 696.79,133.80 693.82,137.98 690.85,133.80"/><polygon points="694.50,129.62 697.47,133.80 694.50,137.98 691.53,133.80"/><polygon points="695.17,129.62 698.14,133.80 695.17,137.98 692.20,133.80"/><polygon points="695.84,129.62 698.81,133.80 695.84,137.98 692.87,133.80"/><polygon points="696.49,129.62 699.46,133.80 696.49,137.98 693.52,133.80"/><polygon points="697.15,129.62 700.12,133.80 697.15,137.98 694.18,133.80"/><polygon points="697.79,129.62 700.76,133.80 697.79,137.98 694.82,133.80"/><polygon points="698.43,129.62 701.40,133.80 698.43,137.98 695.46,133.80"/><polygon points="699.06,129.62 702.03,133.80 699.06,137.98 696.09,133.80"/><polygon points="699.68,129.62 702.65,133.80 699.68,137.98 696.71,133.80"/><polygon points="700.30,129.62 703.27,133.80 700.30,137.98 697.33,133.80"/></g>
</g>
<g clip-path="url(#cb)">
<polyline points="417.10,56.40 459.73,85.80 484.66,108.30 502.35,123.90 516.07,133.40 527.29,138.70 536.77,142.50 544.98,144.70 552.22,145.70 558.70,146.50 564.56,146.74 569.91,146.95 574.83,147.15 579.39,147.33 583.63,147.50 587.60,147.53 591.33,147.55 594.85,147.58 598.17,147.60 601.33,147.62 604.33,147.64 607.19,147.66 609.92,147.68 612.54,147.70 615.05,147.72 617.46,147.73 619.78,147.75 622.02,147.76 624.18,147.78 626.26,147.79 628.28,147.81 630.23,147.82 632.12,147.83 633.96,147.85 635.74,147.86 637.47,147.87 639.16,147.88 640.80,147.89 642.39,147.90 643.95,147.91 645.47,147.92 646.95,147.93 648.40,147.94 649.81,147.95 651.19,147.96 652.55,147.97 653.87,147.98 655.16,147.99 656.43,148.00 657.67,148.01 658.89,148.02 660.09,148.02 661.26,148.03 662.41,148.04 663.54,148.05 664.64,148.06 665.73,148.06 666.80,148.07 667.85,148.08 668.89,148.08 669.90,148.09 670.90,148.10 671.89,148.11 672.86,148.11 673.81,148.12 674.75,148.12 675.67,148.13 676.58,148.14 677.48,148.14 678.37,148.15 679.24,148.16 680.10,148.16 680.95,148.17 681.78,148.17 682.61,148.18 683.42,148.18 684.23,148.19 685.02,148.20 685.80,148.20 686.58,148.21 687.34,148.21 688.10,148.22 688.84,148.22 689.58,148.23 690.31,148.23 691.02,148.24 691.74,148.24 692.44,148.25 693.13,148.25 693.82,148.26 694.50,148.26 695.17,148.26 695.84,148.27 696.49,148.27 697.15,148.28 697.79,148.28 698.43,148.29 699.06,148.29 699.68,148.30 700.30,148.30" fill="none" stroke="#87cefa" stroke-width="1.3" stroke-linejoin="round"/>
<g fill="#87cefa"><polygon points="420.73,56.40 413.47,53.10 413.47,59.70"/><polygon points="463.36,85.80 456.10,82.50 456.10,89.10"/><polygon points="488.29,108.30 481.03,105.00 481.03,111.60"/><polygon points="505.98,123.90 498.72,120.60 498.72,127.20"/><polygon points="519.70,133.40 512.44,130.10 512.44,136.70"/><polygon points="530.92,138.70 523.66,135.40 523.66,142.00"/><polygon points="540.40,142.50 533.14,139.20 533.14,145.80"/><polygon points="548.61,144.70 541.35,141.40 541.35,148.00"/><polygon points="555.85,145.70 548.59,142.40 548.59,149.00"/><polygon points="562.33,146.50 555.07,143.20 555.07,149.80"/><polygon points="568.19,146.74 560.93,143.44 560.93,150.04"/><polygon points="573.54,146.95 566.28,143.65 566.28,150.25"/><polygon points="578.46,147.15 571.20,143.85 571.20,150.45"/><polygon points="583.02,147.33 575.76,144.03 575.76,150.63"/><polygon points="587.26,147.50 580.00,144.20 580.00,150.80"/><polygon points="591.23,147.53 583.97,144.23 583.97,150.83"/><polygon points="594.96,147.55 587.70,144.25 587.70,150.85"/><polygon points="598.48,147.58 591.22,144.28 591.22,150.88"/><polygon points="601.80,147.60 594.54,144.30 594.54,150.90"/><polygon points="604.96,147.62 597.70,144.32 597.70,150.92"/><polygon points="607.96,147.64 600.70,144.34 600.70,150.94"/><polygon points="610.82,147.66 603.56,144.36 603.56,150.96"/><polygon points="613.55,147.68 606.29,144.38 606.29,150.98"/><polygon points="616.17,147.70 608.91,144.40 608.91,151.00"/><polygon points="618.68,147.72 611.42,144.42 611.42,151.02"/><polygon points="621.09,147.73 613.83,144.43 613.83,151.03"/><polygon points="623.41,147.75 616.15,144.45 616.15,151.05"/><polygon points="625.65,147.76 618.39,144.46 618.39,151.06"/><polygon points="627.81,147.78 620.55,144.48 620.55,151.08"/><polygon points="629.89,147.79 622.63,144.49 622.63,151.09"/><polygon points="631.91,147.81 624.65,144.51 624.65,151.11"/><polygon points="633.86,147.82 626.60,144.52 626.60,151.12"/><polygon points="635.75,147.83 628.49,144.53 628.49,151.13"/><polygon points="637.59,147.85 630.33,144.55 630.33,151.15"/><polygon points="639.37,147.86 632.11,144.56 632.11,151.16"/><polygon points="641.10,147.87 633.84,144.57 633.84,151.17"/><polygon points="642.79,147.88 635.53,144.58 635.53,151.18"/><polygon points="644.43,147.89 637.17,144.59 637.17,151.19"/><polygon points="646.02,147.90 638.76,144.60 638.76,151.20"/><polygon points="647.58,147.91 640.32,144.61 640.32,151.21"/><polygon points="649.10,147.92 641.84,144.62 641.84,151.22"/><polygon points="650.58,147.93 643.32,144.63 643.32,151.23"/><polygon points="652.03,147.94 644.77,144.64 644.77,151.24"/><polygon points="653.44,147.95 646.18,144.65 646.18,151.25"/><polygon points="654.82,147.96 647.56,144.66 647.56,151.26"/><polygon points="656.18,147.97 648.92,144.67 648.92,151.27"/><polygon points="657.50,147.98 650.24,144.68 650.24,151.28"/><polygon points="658.79,147.99 651.53,144.69 651.53,151.29"/><polygon points="660.06,148.00 652.80,144.70 652.80,151.30"/><polygon points="661.30,148.01 654.04,144.71 654.04,151.31"/><polygon points="662.52,148.02 655.26,144.72 655.26,151.32"/><polygon points="663.72,148.02 656.46,144.72 656.46,151.32"/><polygon points="664.89,148.03 657.63,144.73 657.63,151.33"/><polygon points="666.04,148.04 658.78,144.74 658.78,151.34"/><polygon points="667.17,148.05 659.91,144.75 659.91,151.35"/><polygon points="668.27,148.06 661.01,144.76 661.01,151.36"/><polygon points="669.36,148.06 662.10,144.76 662.10,151.36"/><polygon points="670.43,148.07 663.17,144.77 663.17,151.37"/><polygon points="671.48,148.08 664.22,144.78 664.22,151.38"/><polygon points="672.52,148.08 665.26,144.78 665.26,151.38"/><polygon points="673.53,148.09 666.27,144.79 666.27,151.39"/><polygon points="674.53,148.10 667.27,144.80 667.27,151.40"/><polygon points="675.52,148.11 668.26,144.81 668.26,151.41"/><polygon points="676.49,148.11 669.23,144.81 669.23,151.41"/><polygon points="677.44,148.12 670.18,144.82 670.18,151.42"/><polygon points="678.38,148.12 671.12,144.82 671.12,151.42"/><polygon points="679.30,148.13 672.04,144.83 672.04,151.43"/><polygon points="680.21,148.14 672.95,144.84 672.95,151.44"/><polygon points="681.11,148.14 673.85,144.84 673.85,151.44"/><polygon points="682.00,148.15 674.74,144.85 674.74,151.45"/><polygon points="682.87,148.16 675.61,144.86 675.61,151.46"/><polygon points="683.73,148.16 676.47,144.86 676.47,151.46"/><polygon points="684.58,148.17 677.32,144.87 677.32,151.47"/><polygon points="685.41,148.17 678.15,144.87 678.15,151.47"/><polygon points="686.24,148.18 678.98,144.88 678.98,151.48"/><polygon points="687.05,148.18 679.79,144.88 679.79,151.48"/><polygon points="687.86,148.19 680.60,144.89 680.60,151.49"/><polygon points="688.65,148.20 681.39,144.90 681.39,151.50"/><polygon points="689.43,148.20 682.17,144.90 682.17,151.50"/><polygon points="690.21,148.21 682.95,144.91 682.95,151.51"/><polygon points="690.97,148.21 683.71,144.91 683.71,151.51"/><polygon points="691.73,148.22 684.47,144.92 684.47,151.52"/><polygon points="692.47,148.22 685.21,144.92 685.21,151.52"/><polygon points="693.21,148.23 685.95,144.93 685.95,151.53"/><polygon points="693.94,148.23 686.68,144.93 686.68,151.53"/><polygon points="694.65,148.24 687.39,144.94 687.39,151.54"/><polygon points="695.37,148.24 688.11,144.94 688.11,151.54"/><polygon points="696.07,148.25 688.81,144.95 688.81,151.55"/><polygon points="696.76,148.25 689.50,144.95 689.50,151.55"/><polygon points="697.45,148.26 690.19,144.96 690.19,151.56"/><polygon points="698.13,148.26 690.87,144.96 690.87,151.56"/><polygon points="698.80,148.26 691.54,144.96 691.54,151.56"/><polygon points="699.47,148.27 692.21,144.97 692.21,151.57"/><polygon points="700.12,148.27 692.86,144.97 692.86,151.57"/><polygon points="700.78,148.28 693.52,144.98 693.52,151.58"/><polygon points="701.42,148.28 694.16,144.98 694.16,151.58"/><polygon points="702.06,148.29 694.80,144.99 694.80,151.59"/><polygon points="702.69,148.29 695.43,144.99 695.43,151.59"/><polygon points="703.31,148.30 696.05,145.00 696.05,151.60"/><polygon points="703.93,148.30 696.67,145.00 696.67,151.60"/></g>
</g>
<g clip-path="url(#cd)">
<polyline points="417.10,242.90 459.73,280.00 484.66,309.70 502.35,327.60 516.07,336.20 527.29,339.80 536.77,342.00 544.98,343.10 552.22,343.23 558.70,343.35 564.56,343.45 569.91,343.55 574.83,343.64 579.39,343.72 583.63,343.80 587.60,343.77 591.33,343.73 594.85,343.70 598.17,343.68 601.33,343.65 604.33,343.62 607.19,343.60 609.92,343.57 612.54,343.55 615.05,343.53 617.46,343.51 619.78,343.49 622.02,343.47 624.18,343.45 626.26,343.43 628.28,343.42 630.23,343.40 632.12,343.38 633.96,343.37 635.74,343.35 637.47,343.34 639.16,343.32 640.80,343.31 642.39,343.30 643.95,343.28 645.47,343.27 646.95,343.26 648.40,343.24 649.81,343.23 651.19,343.22 652.55,343.21 653.87,343.20 655.16,343.19 656.43,343.18 657.67,343.17 658.89,343.15 660.09,343.14 661.26,343.13 662.41,343.12 663.54,343.12 664.64,343.11 665.73,343.10 666.80,343.09 667.85,343.08 668.89,343.07 669.90,343.06 670.90,343.05 671.89,343.04 672.86,343.04 673.81,343.03 674.75,343.02 675.67,343.01 676.58,343.00 677.48,343.00 678.37,342.99 679.24,342.98 680.10,342.97 680.95,342.97 681.78,342.96 682.61,342.95 683.42,342.94 684.23,342.94 685.02,342.93 685.80,342.92 686.58,342.92 687.34,342.91 688.10,342.90 688.84,342.90 689.58,342.89 690.31,342.89 691.02,342.88 691.74,342.87 692.44,342.87 693.13,342.86 693.82,342.86 694.50,342.85 695.17,342.84 695.84,342.84 696.49,342.83 697.15,342.83 697.79,342.82 698.43,342.82 699.06,342.81 699.68,342.81 700.30,342.80" fill="none" stroke="#ff1493" stroke-width="1.3" stroke-linejoin="round"/>
<g fill="#ff1493"><polygon points="417.10,239.70 420.80,242.14 419.38,246.10 414.82,246.10 413.40,242.14"/><polygon points="459.73,276.80 463.42,279.24 462.01,283.20 457.44,283.20 456.03,279.24"/><polygon points="484.66,306.50 488.36,308.94 486.94,312.90 482.38,312.90 480.96,308.94"/><polygon points="502.35,324.40 506.05,326.84 504.64,330.80 500.07,330.80 498.66,326.84"/><polygon points="516.07,333.00 519.77,335.44 518.36,339.40 513.79,339.40 512.38,335.44"/><polygon points="527.29,336.60 530.98,339.04 529.57,343.00 525.00,343.00 523.59,339.04"/><polygon points="536.77,338.80 540.46,341.24 539.05,345.20 534.48,345.20 533.07,341.24"/><polygon points="544.98,339.90 548.67,342.34 547.26,346.30 542.69,346.30 541.28,342.34"/><polygon points="552.22,340.03 555.92,342.48 554.51,346.43 549.94,346.43 548.52,342.48"/><polygon points="558.70,340.15 562.40,342.59 560.98,346.55 556.42,346.55 555.00,342.59"/><polygon points="564.56,340.25 568.26,342.70 566.85,346.66 562.28,346.66 560.86,342.70"/><polygon points="569.91,340.35 573.61,342.80 572.20,346.75 567.63,346.75 566.22,342.80"/><polygon points="574.83,340.44 578.53,342.88 577.12,346.84 572.55,346.84 571.14,342.88"/><polygon points="579.39,340.52 583.09,342.97 581.68,346.93 577.11,346.93 575.70,342.97"/><polygon points="583.63,340.60 587.33,343.04 585.92,347.00 581.35,347.00 579.94,343.04"/><polygon points="587.60,340.56 591.30,343.01 589.89,346.97 585.32,346.97 583.91,343.01"/><polygon points="591.33,340.53 595.03,342.98 593.62,346.94 589.05,346.94 587.64,342.98"/><polygon points="594.85,340.50 598.54,342.95 597.13,346.91 592.56,346.91 591.15,342.95"/><polygon points="598.17,340.47 601.87,342.92 600.46,346.88 595.89,346.88 594.48,342.92"/><polygon points="601.33,340.45 605.02,342.89 603.61,346.85 599.04,346.85 597.63,342.89"/><polygon points="604.33,340.42 608.02,342.87 606.61,346.83 602.04,346.83 600.63,342.87"/><polygon points="607.19,340.39 610.88,342.84 609.47,346.80 604.90,346.80 603.49,342.84"/><polygon points="609.92,340.37 613.62,342.82 612.21,346.78 607.64,346.78 606.22,342.82"/><polygon points="612.54,340.35 616.23,342.80 614.82,346.76 610.25,346.76 608.84,342.80"/><polygon points="615.05,340.33 618.74,342.77 617.33,346.73 612.76,346.73 611.35,342.77"/><polygon points="617.46,340.31 621.16,342.75 619.74,346.71 615.18,346.71 613.76,342.75"/><polygon points="619.78,340.29 623.48,342.73 622.07,346.69 617.50,346.69 616.08,342.73"/><polygon points="622.02,340.27 625.71,342.71 624.30,346.67 619.73,346.67 618.32,342.71"/><polygon points="624.18,340.25 627.87,342.70 626.46,346.66 621.89,346.66 620.48,342.70"/><polygon points="626.26,340.23 629.96,342.68 628.54,346.64 623.98,346.64 622.56,342.68"/><polygon points="628.28,340.21 631.97,342.66 630.56,346.62 625.99,346.62 624.58,342.66"/><polygon points="630.23,340.20 633.93,342.64 632.51,346.60 627.94,346.60 626.53,342.64"/><polygon points="632.12,340.18 635.82,342.63 634.41,346.59 629.84,346.59 628.43,342.63"/><polygon points="633.96,340.17 637.65,342.61 636.24,346.57 631.67,346.57 630.26,342.61"/><polygon points="635.74,340.15 639.44,342.60 638.02,346.56 633.46,346.56 632.04,342.60"/><polygon points="637.47,340.14 641.17,342.58 639.76,346.54 635.19,346.54 633.78,342.58"/><polygon points="639.16,340.12 642.85,342.57 641.44,346.53 636.87,346.53 635.46,342.57"/><polygon points="640.80,340.11 644.49,342.55 643.08,346.51 638.51,346.51 637.10,342.55"/><polygon points="642.39,340.09 646.09,342.54 644.68,346.50 640.11,346.50 638.70,342.54"/><polygon points="643.95,340.08 647.65,342.53 646.24,346.49 641.67,346.49 640.26,342.53"/><polygon points="645.47,340.07 649.17,342.51 647.75,346.47 643.19,346.47 641.77,342.51"/><polygon points="646.95,340.05 650.65,342.50 649.24,346.46 644.67,346.46 643.26,342.50"/><polygon points="648.40,340.04 652.10,342.49 650.68,346.45 646.11,346.45 644.70,342.49"/><polygon points="649.81,340.03 653.51,342.48 652.10,346.44 647.53,346.44 646.12,342.48"/><polygon points="651.19,340.02 654.89,342.46 653.48,346.42 648.91,346.42 647.50,342.46"/><polygon points="652.55,340.01 656.24,342.45 654.83,346.41 650.26,346.41 648.85,342.45"/><polygon points="653.87,339.99 657.57,342.44 656.15,346.40 651.58,346.40 650.17,342.44"/><polygon points="655.16,339.98 658.86,342.43 657.45,346.39 652.88,346.39 651.47,342.43"/><polygon points="656.43,339.97 660.13,342.42 658.72,346.38 654.15,346.38 652.74,342.42"/><polygon points="657.67,339.96 661.37,342.41 659.96,346.37 655.39,346.37 653.98,342.41"/><polygon points="658.89,339.95 662.59,342.40 661.18,346.36 656.61,346.36 655.20,342.40"/><polygon points="660.09,339.94 663.78,342.39 662.37,346.35 657.80,346.35 656.39,342.39"/><polygon points="661.26,339.93 664.95,342.38 663.54,346.34 658.97,346.34 657.56,342.38"/><polygon points="662.41,339.92 666.10,342.37 664.69,346.33 660.12,346.33 658.71,342.37"/><polygon points="663.54,339.91 667.23,342.36 665.82,346.32 661.25,346.32 659.84,342.36"/><polygon points="664.64,339.90 668.34,342.35 666.93,346.31 662.36,346.31 660.95,342.35"/><polygon points="665.73,339.89 669.43,342.34 668.02,346.30 663.45,346.30 662.04,342.34"/><polygon points="666.80,339.88 670.50,342.33 669.09,346.29 664.52,346.29 663.11,342.33"/><polygon points="667.85,339.87 671.55,342.32 670.14,346.28 665.57,346.28 664.16,342.32"/><polygon points="668.89,339.87 672.58,342.31 671.17,346.27 666.60,346.27 665.19,342.31"/><polygon points="669.90,339.86 673.60,342.30 672.19,346.26 667.62,346.26 666.21,342.30"/><polygon points="670.90,339.85 674.60,342.30 673.19,346.26 668.62,346.26 667.21,342.30"/><polygon points="671.89,339.84 675.58,342.29 674.17,346.25 669.60,346.25 668.19,342.29"/><polygon points="672.86,339.83 676.55,342.28 675.14,346.24 670.57,346.24 669.16,342.28"/><polygon points="673.81,339.82 677.50,342.27 676.09,346.23 671.52,346.23 670.11,342.27"/><polygon points="674.75,339.82 678.44,342.26 677.03,346.22 672.46,346.22 671.05,342.26"/><polygon points="675.67,339.81 679.37,342.25 677.96,346.21 673.39,346.21 671.98,342.25"/><polygon points="676.58,339.80 680.28,342.25 678.87,346.21 674.30,346.21 672.89,342.25"/><polygon points="677.48,339.79 681.18,342.24 679.77,346.20 675.20,346.20 673.78,342.24"/><polygon points="678.37,339.78 682.06,342.23 680.65,346.19 676.08,346.19 674.67,342.23"/><polygon points="679.24,339.78 682.93,342.22 681.52,346.18 676.95,346.18 675.54,342.22"/><polygon points="680.10,339.77 683.79,342.22 682.38,346.18 677.81,346.18 676.40,342.22"/><polygon points="680.95,339.76 684.64,342.21 683.23,346.17 678.66,346.17 677.25,342.21"/><polygon points="681.78,339.76 685.48,342.20 684.07,346.16 679.50,346.16 678.09,342.20"/><polygon points="682.61,339.75 686.30,342.20 684.89,346.15 680.32,346.15 678.91,342.20"/><polygon points="683.42,339.74 687.12,342.19 685.71,346.15 681.14,346.15 679.73,342.19"/><polygon points="684.23,339.73 687.92,342.18 686.51,346.14 681.94,346.14 680.53,342.18"/><polygon points="685.02,339.73 688.72,342.17 687.30,346.13 682.74,346.13 681.32,342.17"/><polygon points="685.80,339.72 689.50,342.17 688.09,346.13 683.52,346.13 682.11,342.17"/><polygon points="686.58,339.71 690.27,342.16 688.86,346.12 684.29,346.12 682.88,342.16"/><polygon points="687.34,339.71 691.04,342.15 689.63,346.11 685.06,346.11 683.65,342.15"/><polygon points="688.10,339.70 691.79,342.15 690.38,346.11 685.81,346.11 684.40,342.15"/><polygon points="688.84,339.70 692.54,342.14 691.13,346.10 686.56,346.10 685.15,342.14"/><polygon points="689.58,339.69 693.27,342.14 691.86,346.10 687.29,346.10 685.88,342.14"/><polygon points="690.31,339.68 694.00,342.13 692.59,346.09 688.02,346.09 686.61,342.13"/><polygon points="691.02,339.68 694.72,342.12 693.31,346.08 688.74,346.08 687.33,342.12"/><polygon points="691.74,339.67 695.43,342.12 694.02,346.08 689.45,346.08 688.04,342.12"/><polygon points="692.44,339.66 696.13,342.11 694.72,346.07 690.15,346.07 688.74,342.11"/><polygon points="693.13,339.66 696.83,342.11 695.42,346.06 690.85,346.06 689.44,342.11"/><polygon points="693.82,339.65 697.52,342.10 696.11,346.06 691.54,346.06 690.12,342.10"/><polygon points="694.50,339.65 698.20,342.09 696.78,346.05 692.22,346.05 690.80,342.09"/><polygon points="695.17,339.64 698.87,342.09 697.46,346.05 692.89,346.05 691.48,342.09"/><polygon points="695.84,339.64 699.53,342.08 698.12,346.04 693.55,346.04 692.14,342.08"/><polygon points="696.49,339.63 700.19,342.08 698.78,346.04 694.21,346.04 692.80,342.08"/><polygon points="697.15,339.62 700.84,342.07 699.43,346.03 694.86,346.03 693.45,342.07"/><polygon points="697.79,339.62 701.49,342.07 700.07,346.02 695.51,346.02 694.09,342.07"/><polygon points="698.43,339.61 702.12,342.06 700.71,346.02 696.14,346.02 694.73,342.06"/><polygon points="699.06,339.61 702.75,342.05 701.34,346.01 696.77,346.01 695.36,342.05"/><polygon points="699.68,339.60 703.38,342.05 701.97,346.01 697.40,346.01 695.99,342.05"/><polygon points="700.30,339.60 704.00,342.04 702.58,346.00 698.02,346.00 696.60,342.04"/></g>
</g>
<g clip-path="url(#cd)">
<polyline points="417.10,212.40 459.73,216.00 484.66,219.80 502.35,225.10 516.07,230.40 527.29,236.20 536.77,241.80 544.98,246.80 552.22,251.60 558.70,256.10 564.56,260.30 569.91,264.30 574.83,267.70 579.39,270.90 583.63,272.98 587.60,274.93 591.33,276.39 594.85,277.68 598.17,278.90 601.33,280.05 604.33,281.15 607.19,282.19 609.92,283.06 612.54,283.89 615.05,284.69 617.46,285.46 619.78,286.20 622.02,286.91 624.18,287.60 626.26,288.09 628.28,288.31 630.23,288.52 632.12,288.72 633.96,288.92 635.74,289.11 637.47,289.30 639.16,289.48 640.80,289.66 642.39,289.83 643.95,290.00 645.47,290.02 646.95,290.05 648.40,290.07 649.81,290.09 651.19,290.11 652.55,290.13 653.87,290.15 655.16,290.17 656.43,290.19 657.67,290.21 658.89,290.23 660.09,290.25 661.26,290.27 662.41,290.28 663.54,290.30 664.64,290.32 665.73,290.34 666.80,290.35 667.85,290.37 668.89,290.38 669.90,290.40 670.90,290.40 671.89,290.40 672.86,290.40 673.81,290.40 674.75,290.40 675.67,290.40 676.58,290.40 677.48,290.40 678.37,290.40 679.24,290.40 680.10,290.40 680.95,290.40 681.78,290.40 682.61,290.40 683.42,290.40 684.23,290.40 685.02,290.40 685.80,290.40 686.58,290.40 687.34,290.40 688.10,290.40 688.84,290.40 689.58,290.40 690.31,290.40 691.02,290.40 691.74,290.40 692.44,290.40 693.13,290.40 693.82,290.40 694.50,290.40 695.17,290.40 695.84,290.40 696.49,290.40 697.15,290.40 697.79,290.40 698.43,290.40 699.06,290.40 699.68,290.40 700.30,290.40" fill="none" stroke="#000000" stroke-width="1.3" stroke-linejoin="round"/>
<g fill="#000000"><rect x="412.92" y="209.32" width="8.36" height="6.16"/><rect x="455.55" y="212.92" width="8.36" height="6.16"/><rect x="480.48" y="216.72" width="8.36" height="6.16"/><rect x="498.17" y="222.02" width="8.36" height="6.16"/><rect x="511.89" y="227.32" width="8.36" height="6.16"/><rect x="523.11" y="233.12" width="8.36" height="6.16"/><rect x="532.59" y="238.72" width="8.36" height="6.16"/><rect x="540.80" y="243.72" width="8.36" height="6.16"/><rect x="548.04" y="248.52" width="8.36" height="6.16"/><rect x="554.52" y="253.02" width="8.36" height="6.16"/><rect x="560.38" y="257.22" width="8.36" height="6.16"/><rect x="565.73" y="261.22" width="8.36" height="6.16"/><rect x="570.65" y="264.62" width="8.36" height="6.16"/><rect x="575.21" y="267.82" width="8.36" height="6.16"/><rect x="579.45" y="269.90" width="8.36" height="6.16"/><rect x="583.42" y="271.85" width="8.36" height="6.16"/><rect x="587.15" y="273.31" width="8.36" height="6.16"/><rect x="590.67" y="274.60" width="8.36" height="6.16"/><rect x="593.99" y="275.82" width="8.36" height="6.16"/><rect x="597.15" y="276.97" width="8.36" height="6.16"/><rect x="600.15" y="278.07" width="8.36" height="6.16"/><rect x="603.01" y="279.11" width="8.36" height="6.16"/><rect x="605.74" y="279.98" width="8.36" height="6.16"/><rect x="608.36" y="280.81" width="8.36" height="6.16"/><rect x="610.87" y="281.61" width="8.36" height="6.16"/><rect x="613.28" y="282.38" width="8.36" height="6.16"/><rect x="615.60" y="283.12" width="8.36" height="6.16"/><rect x="617.84" y="283.83" width="8.36" height="6.16"/><rect x="620.00" y="284.52" width="8.36" height="6.16"/><rect x="622.08" y="285.01" width="8.36" height="6.16"/><rect x="624.10" y="285.23" width="8.36" height="6.16"/><rect x="626.05" y="285.44" width="8.36" height="6.16"/><rect x="627.94" y="285.64" width="8.36" height="6.16"/><rect x="629.78" y="285.84" width="8.36" height="6.16"/><rect x="631.56" y="286.03" width="8.36" height="6.16"/><rect x="633.29" y="286.22" width="8.36" height="6.16"/><rect x="634.98" y="286.40" width="8.36" height="6.16"/><rect x="636.62" y="286.58" width="8.36" height="6.16"/><rect x="638.21" y="286.75" width="8.36" height="6.16"/><rect x="639.77" y="286.92" width="8.36" height="6.16"/><rect x="641.29" y="286.94" width="8.36" height="6.16"/><rect x="642.77" y="286.97" width="8.36" height="6.16"/><rect x="644.22" y="286.99" width="8.36" height="6.16"/><rect x="645.63" y="287.01" width="8.36" height="6.16"/><rect x="647.01" y="287.03" width="8.36" height="6.16"/><rect x="648.37" y="287.05" width="8.36" height="6.16"/><rect x="649.69" y="287.07" width="8.36" height="6.16"/><rect x="650.98" y="287.09" width="8.36" height="6.16"/><rect x="652.25" y="287.11" width="8.36" height="6.16"/><rect x="653.49" y="287.13" width="8.36" height="6.16"/><rect x="654.71" y="287.15" width="8.36" height="6.16"/><rect x="655.91" y="287.17" width="8.36" height="6.16"/><rect x="657.08" y="287.19" width="8.36" height="6.16"/><rect x="658.23" y="287.20" width="8.36" height="6.16"/><rect x="659.36" y="287.22" width="8.36" height="6.16"/><rect x="660.46" y="287.24" width="8.36" height="6.16"/><rect x="661.55" y="287.26" width="8.36" height="6.16"/><rect x="662.62" y="287.27" width="8.36" height="6.16"/><rect x="663.67" y="287.29" width="8.36" height="6.16"/><rect x="664.71" y="287.30" width="8.36" height="6.16"/><rect x="665.72" y="287.32" width="8.36" height="6.16"/><rect x="666.72" y="287.32" width="8.36" height="6.16"/><rect x="667.71" y="287.32" width="8.36" height="6.16"/><rect x="668.68" y="287.32" width="8.36" height="6.16"/><rect x="669.63" y="287.32" width="8.36" height="6.16"/><rect x="670.57" y="287.32" width="8.36" height="6.16"/><rect x="671.49" y="287.32" width="8.36" height="6.16"/><rect x="672.40" y="287.32" width="8.36" height="6.16"/><rect x="673.30" y="287.32" width="8.36" height="6.16"/><rect x="674.19" y="287.32" width="8.36" height="6.16"/><rect x="675.06" y="287.32" width="8.36" height="6.16"/><rect x="675.92" y="287.32" width="8.36" height="6.16"/><rect x="676.77" y="287.32" width="8.36" height="6.16"/><rect x="677.60" y="287.32" width="8.36" height="6.16"/><rect x="678.43" y="287.32" width="8.36" height="6.16"/><rect x="679.24" y="287.32" width="8.36" height="6.16"/><rect x="680.05" y="287.32" width="8.36" height="6.16"/><rect x="680.84" y="287.32" width="8.36" height="6.16"/><rect x="681.62" y="287.32" width="8.36" height="6.16"/><rect x="682.40" y="287.32" width="8.36" height="6.16"/><rect x="683.16" y="287.32" width="8.36" height="6.16"/><rect x="683.92" y="287.32" width="8.36" height="6.16"/><rect x="684.66" y="287.32" width="8.36" height="6.16"/><rect x="685.40" y="287.32" width="8.36" height="6.16"/><rect x="686.13" y="287.32" width="8.36" height="6.16"/><rect x="686.84" y="287.32" width="8.36" height="6.16"/><rect x="687.56" y="287.32" width="8.36" height="6.16"/><rect x="688.26" y="287.32" width="8.36" height="6.16"/><rect x="688.95" y="287.32" width="8.36" height="6.16"/><rect x="689.64" y="287.32" width="8.36" height="6.16"/><rect x="690.32" y="287.32" width="8.36" height="6.16"/><rect x="690.99" y="287.32" width="8.36" height="6.16"/><rect x="691.66" y="287.32" width="8.36" height="6.16"/><rect x="692.31" y="287.32" width="8.36" height="6.16"/><rect x="692.97" y="287.32" width="8.36" height="6.16"/><rect x="693.61" y="287.32" width="8.36" height="6.16"/><rect x="694.25" y="287.32" width="8.36" height="6.16"/><rect x="694.88" y="287.32" width="8.36" height="6.16"/><rect x="695.50" y="287.32" width="8.36" height="6.16"/><rect x="696.12" y="287.32" width="8.36" height="6.16"/></g>
</g>
<g clip-path="url(#cd)">
<polyline points="417.10,209.60 459.73,212.40 484.66,213.20 502.35,216.40 516.07,219.80 527.29,223.80 536.77,227.80 544.98,232.30 552.22,237.00 558.70,241.50 564.56,245.80 569.91,249.70 574.83,253.70 579.39,257.40 583.63,260.52 587.60,263.44 591.33,265.97 594.85,268.30 598.17,270.50 601.33,272.60 604.33,274.59 607.19,276.42 609.92,277.55 612.54,278.64 615.05,279.68 617.46,280.69 619.78,281.65 622.02,282.58 624.18,283.48 626.26,284.17 628.28,284.58 630.23,284.98 632.12,285.37 633.96,285.75 635.74,286.11 637.47,286.47 639.16,286.82 640.80,287.15 642.39,287.48 643.95,287.80 645.47,287.91 646.95,288.01 648.40,288.11 649.81,288.21 651.19,288.30 652.55,288.40 653.87,288.49 655.16,288.58 656.43,288.67 657.67,288.75 658.89,288.84 660.09,288.92 661.26,289.00 662.41,289.08 663.54,289.16 664.64,289.24 665.73,289.31 666.80,289.38 667.85,289.46 668.89,289.53 669.90,289.60 670.90,289.62 671.89,289.64 672.86,289.66 673.81,289.68 674.75,289.70 675.67,289.71 676.58,289.73 677.48,289.75 678.37,289.77 679.24,289.78 680.10,289.80 680.95,289.82 681.78,289.83 682.61,289.85 683.42,289.87 684.23,289.88 685.02,289.90 685.80,289.91 686.58,289.93 687.34,289.94 688.10,289.96 688.84,289.97 689.58,289.99 690.31,290.00 691.02,290.02 691.74,290.03 692.44,290.04 693.13,290.06 693.82,290.07 694.50,290.09 695.17,290.10 695.84,290.11 696.49,290.12 697.15,290.14 697.79,290.15 698.43,290.16 699.06,290.18 699.68,290.19 700.30,290.20" fill="none" stroke="#00ff00" stroke-width="1.3" stroke-linejoin="round"/>
<g fill="#00ff00"><polygon points="417.10,205.42 420.07,209.60 417.10,213.78 414.13,209.60"/><polygon points="459.73,208.22 462.70,212.40 459.73,216.58 456.76,212.40"/><polygon points="484.66,209.02 487.63,213.20 484.66,217.38 481.69,213.20"/><polygon points="502.35,212.22 505.32,216.40 502.35,220.58 499.38,216.40"/><polygon points="516.07,215.62 519.04,219.80 516.07,223.98 513.10,219.80"/><polygon points="527.29,219.62 530.26,223.80 527.29,227.98 524.32,223.80"/><polygon points="536.77,223.62 539.74,227.80 536.77,231.98 533.80,227.80"/><polygon points="544.98,228.12 547.95,232.30 544.98,236.48 542.01,232.30"/><polygon points="552.22,232.82 555.19,237.00 552.22,241.18 549.25,237.00"/><polygon points="558.70,237.32 561.67,241.50 558.70,245.68 555.73,241.50"/><polygon points="564.56,241.62 567.53,245.80 564.56,249.98 561.59,245.80"/><polygon points="569.91,245.52 572.88,249.70 569.91,253.88 566.94,249.70"/><polygon points="574.83,249.52 577.80,253.70 574.83,257.88 571.86,253.70"/><polygon points="579.39,253.22 582.36,257.40 579.39,261.58 576.42,257.40"/><polygon points="583.63,256.34 586.60,260.52 583.63,264.70 580.66,260.52"/><polygon points="587.60,259.26 590.57,263.44 587.60,267.62 584.63,263.44"/><polygon points="591.33,261.79 594.30,265.97 591.33,270.15 588.36,265.97"/><polygon points="594.85,264.12 597.82,268.30 594.85,272.48 591.88,268.30"/><polygon points="598.17,266.32 601.14,270.50 598.17,274.68 595.20,270.50"/><polygon points="601.33,268.42 604.30,272.60 601.33,276.78 598.36,272.60"/><polygon points="604.33,270.41 607.30,274.59 604.33,278.77 601.36,274.59"/><polygon points="607.19,272.24 610.16,276.42 607.19,280.60 604.22,276.42"/><polygon points="609.92,273.37 612.89,277.55 609.92,281.73 606.95,277.55"/><polygon points="612.54,274.46 615.51,278.64 612.54,282.82 609.57,278.64"/><polygon points="615.05,275.50 618.02,279.68 615.05,283.86 612.08,279.68"/><polygon points="617.46,276.51 620.43,280.69 617.46,284.87 614.49,280.69"/><polygon points="619.78,277.47 622.75,281.65 619.78,285.83 616.81,281.65"/><polygon points="622.02,278.40 624.99,282.58 622.02,286.76 619.05,282.58"/><polygon points="624.18,279.30 627.15,283.48 624.18,287.66 621.21,283.48"/><polygon points="626.26,279.99 629.23,284.17 626.26,288.35 623.29,284.17"/><polygon points="628.28,280.40 631.25,284.58 628.28,288.76 625.31,284.58"/><polygon points="630.23,280.80 633.20,284.98 630.23,289.16 627.26,284.98"/><polygon points="632.12,281.19 635.09,285.37 632.12,289.55 629.15,285.37"/><polygon points="633.96,281.57 636.93,285.75 633.96,289.93 630.99,285.75"/><polygon points="635.74,281.93 638.71,286.11 635.74,290.29 632.77,286.11"/><polygon points="637.47,282.29 640.44,286.47 637.47,290.65 634.50,286.47"/><polygon points="639.16,282.64 642.13,286.82 639.16,291.00 636.19,286.82"/><polygon points="640.80,282.97 643.77,287.15 640.80,291.33 637.83,287.15"/><polygon points="642.39,283.30 645.36,287.48 642.39,291.66 639.42,287.48"/><polygon points="643.95,283.62 646.92,287.80 643.95,291.98 640.98,287.80"/><polygon points="645.47,283.73 648.44,287.91 645.47,292.09 642.50,287.91"/><polygon points="646.95,283.83 649.92,288.01 646.95,292.19 643.98,288.01"/><polygon points="648.40,283.93 651.37,288.11 648.40,292.29 645.43,288.11"/><polygon points="649.81,284.03 652.78,288.21 649.81,292.39 646.84,288.21"/><polygon points="651.19,284.12 654.16,288.30 651.19,292.48 648.22,288.30"/><polygon points="652.55,284.22 655.52,288.40 652.55,292.58 649.58,288.40"/><polygon points="653.87,284.31 656.84,288.49 653.87,292.67 650.90,288.49"/><polygon points="655.16,284.40 658.13,288.58 655.16,292.76 652.19,288.58"/><polygon points="656.43,284.49 659.40,288.67 656.43,292.85 653.46,288.67"/><polygon points="657.67,284.57 660.64,288.75 657.67,292.93 654.70,288.75"/><polygon points="658.89,284.66 661.86,288.84 658.89,293.02 655.92,288.84"/><polygon points="660.09,284.74 663.06,288.92 660.09,293.10 657.12,288.92"/><polygon points="661.26,284.82 664.23,289.00 661.26,293.18 658.29,289.00"/><polygon points="662.41,284.90 665.38,289.08 662.41,293.26 659.44,289.08"/><polygon points="663.54,284.98 666.51,289.16 663.54,293.34 660.57,289.16"/><polygon points="664.64,285.06 667.61,289.24 664.64,293.42 661.67,289.24"/><polygon points="665.73,285.13 668.70,289.31 665.73,293.49 662.76,289.31"/><polygon points="666.80,285.20 669.77,289.38 666.80,293.56 663.83,289.38"/><polygon points="667.85,285.28 670.82,289.46 667.85,293.64 664.88,289.46"/><polygon points="668.89,285.35 671.86,289.53 668.89,293.71 665.92,289.53"/><polygon points="669.90,285.42 672.87,289.60 669.90,293.78 666.93,289.60"/><polygon points="670.90,285.44 673.87,289.62 670.90,293.80 667.93,289.62"/><polygon points="671.89,285.46 674.86,289.64 671.89,293.82 668.92,289.64"/><polygon points="672.86,285.48 675.83,289.66 672.86,293.84 669.89,289.66"/><polygon points="673.81,285.50 676.78,289.68 673.81,293.86 670.84,289.68"/><polygon points="674.75,285.52 677.72,289.70 674.75,293.88 671.78,289.70"/><polygon points="675.67,285.53 678.64,289.71 675.67,293.89 672.70,289.71"/><polygon points="676.58,285.55 679.55,289.73 676.58,293.91 673.61,289.73"/><polygon points="677.48,285.57 680.45,289.75 677.48,293.93 674.51,289.75"/><polygon points="678.37,285.59 681.34,289.77 678.37,293.95 675.40,289.77"/><polygon points="679.24,285.60 682.21,289.78 679.24,293.96 676.27,289.78"/><polygon points="680.10,285.62 683.07,289.80 680.10,293.98 677.13,289.80"/><polygon points="680.95,285.64 683.92,289.82 680.95,294.00 677.98,289.82"/><polygon points="681.78,285.65 684.75,289.83 681.78,294.01 678.81,289.83"/><polygon points="682.61,285.67 685.58,289.85 682.61,294.03 679.64,289.85"/><polygon points="683.42,285.69 686.39,289.87 683.42,294.05 680.45,289.87"/><polygon points="684.23,285.70 687.20,289.88 684.23,294.06 681.26,289.88"/><polygon points="685.02,285.72 687.99,289.90 685.02,294.08 682.05,289.90"/><polygon points="685.80,285.73 688.77,289.91 685.80,294.09 682.83,289.91"/><polygon points="686.58,285.75 689.55,289.93 686.58,294.11 683.61,289.93"/><polygon points="687.34,285.76 690.31,289.94 687.34,294.12 684.37,289.94"/><polygon points="688.10,285.78 691.07,289.96 688.10,294.14 685.13,289.96"/><polygon points="688.84,285.79 691.81,289.97 688.84,294.15 685.87,289.97"/><polygon points="689.58,285.81 692.55,289.99 689.58,294.17 686.61,289.99"/><polygon points="690.31,285.82 693.28,290.00 690.31,294.18 687.34,290.00"/><polygon points="691.02,285.84 693.99,290.02 691.02,294.20 688.05,290.02"/><polygon points="691.74,285.85 694.71,290.03 691.74,294.21 688.77,290.03"/><polygon points="692.44,285.86 695.41,290.04 692.44,294.22 689.47,290.04"/><polygon points="693.13,285.88 696.10,290.06 693.13,294.24 690.16,290.06"/><polygon points="693.82,285.89 696.79,290.07 693.82,294.25 690.85,290.07"/><polygon points="694.50,285.91 697.47,290.09 694.50,294.27 691.53,290.09"/><polygon points="695.17,285.92 698.14,290.10 695.17,294.28 692.20,290.10"/><polygon points="695.84,285.93 698.81,290.11 695.84,294.29 692.87,290.11"/><polygon points="696.49,285.94 699.46,290.12 696.49,294.30 693.52,290.12"/><polygon points="697.15,285.96 700.12,290.14 697.15,294.32 694.18,290.14"/><polygon points="697.79,285.97 700.76,290.15 697.79,294.33 694.82,290.15"/><polygon points="698.43,285.98 701.40,290.16 698.43,294.34 695.46,290.16"/><polygon points="699.06,286.00 702.03,290.18 699.06,294.36 696.09,290.18"/><polygon points="699.68,286.01 702.65,290.19 699.68,294.37 696.71,290.19"/><polygon points="700.30,286.02 703.27,290.20 700.30,294.38 697.33,290.20"/></g>
</g>
<g clip-path="url(#cd)">
<polyline points="417.10,234.80 459.73,260.00 484.66,280.00 502.35,293.90 516.07,303.60 527.29,309.00 536.77,313.00 544.98,315.60 552.22,317.30 558.70,318.20 564.56,318.60 569.91,318.96 574.83,319.30 579.39,319.61 583.63,319.90 587.60,319.95 591.33,319.99 594.85,320.03 598.17,320.07 601.33,320.11 604.33,320.15 607.19,320.18 609.92,320.22 612.54,320.25 615.05,320.28 617.46,320.31 619.78,320.33 622.02,320.36 624.18,320.39 626.26,320.41 628.28,320.44 630.23,320.46 632.12,320.48 633.96,320.50 635.74,320.53 637.47,320.55 639.16,320.57 640.80,320.59 642.39,320.61 643.95,320.62 645.47,320.64 646.95,320.66 648.40,320.68 649.81,320.69 651.19,320.71 652.55,320.73 653.87,320.74 655.16,320.76 656.43,320.77 657.67,320.79 658.89,320.80 660.09,320.82 661.26,320.83 662.41,320.85 663.54,320.86 664.64,320.87 665.73,320.89 666.80,320.90 667.85,320.91 668.89,320.92 669.90,320.94 670.90,320.95 671.89,320.96 672.86,320.97 673.81,320.98 674.75,320.99 675.67,321.00 676.58,321.02 677.48,321.03 678.37,321.04 679.24,321.05 680.10,321.06 680.95,321.07 681.78,321.08 682.61,321.09 683.42,321.10 684.23,321.11 685.02,321.12 685.80,321.13 686.58,321.14 687.34,321.14 688.10,321.15 688.84,321.16 689.58,321.17 690.31,321.18 691.02,321.19 691.74,321.20 692.44,321.21 693.13,321.21 693.82,321.22 694.50,321.23 695.17,321.24 695.84,321.25 696.49,321.25 697.15,321.26 697.79,321.27 698.43,321.28 699.06,321.29 699.68,321.29 700.30,321.30" fill="none" stroke="#87cefa" stroke-width="1.3" stroke-linejoin="round"/>
<g fill="#87cefa"><polygon points="420.73,234.80 413.47,231.50 413.47,238.10"/><polygon points="463.36,260.00 456.10,256.70 456.10,263.30"/><polygon points="488.29,280.00 481.03,276.70 481.03,283.30"/><polygon points="505.98,293.90 498.72,290.60 498.72,297.20"/><polygon points="519.70,303.60 512.44,300.30 512.44,306.90"/><polygon points="530.92,309.00 523.66,305.70 523.66,312.30"/><polygon points="540.40,313.00 533.14,309.70 533.14,316.30"/><polygon points="548.61,315.60 541.35,312.30 541.35,318.90"/><polygon points="555.85,317.30 548.59,314.00 548.59,320.60"/><polygon points="562.33,318.20 555.07,314.90 555.07,321.50"/><polygon points="568.19,318.60 560.93,315.30 560.93,321.90"/><polygon points="573.54,318.96 566.28,315.66 566.28,322.26"/><polygon points="578.46,319.30 571.20,316.00 571.20,322.60"/><polygon points="583.02,319.61 575.76,316.31 575.76,322.91"/><polygon points="587.26,319.90 580.00,316.60 580.00,323.20"/><polygon points="591.23,319.95 583.97,316.65 583.97,323.25"/><polygon points="594.96,319.99 587.70,316.69 587.70,323.29"/><polygon points="598.48,320.03 591.22,316.73 591.22,323.33"/><polygon points="601.80,320.07 594.54,316.77 594.54,323.37"/><polygon points="604.96,320.11 597.70,316.81 597.70,323.41"/><polygon points="607.96,320.15 600.70,316.85 600.70,323.45"/><polygon points="610.82,320.18 603.56,316.88 603.56,323.48"/><polygon points="613.55,320.22 606.29,316.92 606.29,323.52"/><polygon points="616.17,320.25 608.91,316.95 608.91,323.55"/><polygon points="618.68,320.28 611.42,316.98 611.42,323.58"/><polygon points="621.09,320.31 613.83,317.01 613.83,323.61"/><polygon points="623.41,320.33 616.15,317.03 616.15,323.63"/><polygon points="625.65,320.36 618.39,317.06 618.39,323.66"/><polygon points="627.81,320.39 620.55,317.09 620.55,323.69"/><polygon points="629.89,320.41 622.63,317.11 622.63,323.71"/><polygon points="631.91,320.44 624.65,317.14 624.65,323.74"/><polygon points="633.86,320.46 626.60,317.16 626.60,323.76"/><polygon points="635.75,320.48 628.49,317.18 628.49,323.78"/><polygon points="637.59,320.50 630.33,317.20 630.33,323.80"/><polygon points="639.37,320.53 632.11,317.23 632.11,323.83"/><polygon points="641.10,320.55 633.84,317.25 633.84,323.85"/><polygon points="642.79,320.57 635.53,317.27 635.53,323.87"/><polygon points="644.43,320.59 637.17,317.29 637.17,323.89"/><polygon points="646.02,320.61 638.76,317.31 638.76,323.91"/><polygon points="647.58,320.62 640.32,317.32 640.32,323.92"/><polygon points="649.10,320.64 641.84,317.34 641.84,323.94"/><polygon points="650.58,320.66 643.32,317.36 643.32,323.96"/><polygon points="652.03,320.68 644.77,317.38 644.77,323.98"/><polygon points="653.44,320.69 646.18,317.39 646.18,323.99"/><polygon points="654.82,320.71 647.56,317.41 647.56,324.01"/><polygon points="656.18,320.73 648.92,317.43 648.92,324.03"/><polygon points="657.50,320.74 650.24,317.44 650.24,324.04"/><polygon points="658.79,320.76 651.53,317.46 651.53,324.06"/><polygon points="660.06,320.77 652.80,317.47 652.80,324.07"/><polygon points="661.30,320.79 654.04,317.49 654.04,324.09"/><polygon points="662.52,320.80 655.26,317.50 655.26,324.10"/><polygon points="663.72,320.82 656.46,317.52 656.46,324.12"/><polygon points="664.89,320.83 657.63,317.53 657.63,324.13"/><polygon points="666.04,320.85 658.78,317.55 658.78,324.15"/><polygon points="667.17,320.86 659.91,317.56 659.91,324.16"/><polygon points="668.27,320.87 661.01,317.57 661.01,324.17"/><polygon points="669.36,320.89 662.10,317.59 662.10,324.19"/><polygon points="670.43,320.90 663.17,317.60 663.17,324.20"/><polygon points="671.48,320.91 664.22,317.61 664.22,324.21"/><polygon points="672.52,320.92 665.26,317.62 665.26,324.22"/><polygon points="673.53,320.94 666.27,317.64 666.27,324.24"/><polygon points="674.53,320.95 667.27,317.65 667.27,324.25"/><polygon points="675.52,320.96 668.26,317.66 668.26,324.26"/><polygon points="676.49,320.97 669.23,317.67 669.23,324.27"/><polygon points="677.44,320.98 670.18,317.68 670.18,324.28"/><polygon points="678.38,320.99 671.12,317.69 671.12,324.29"/><polygon points="679.30,321.00 672.04,317.70 672.04,324.30"/><polygon points="680.21,321.02 672.95,317.72 672.95,324.32"/><polygon points="681.11,321.03 673.85,317.73 673.85,324.33"/><polygon points="682.00,321.04 674.74,317.74 674.74,324.34"/><polygon points="682.87,321.05 675.61,317.75 675.61,324.35"/><polygon points="683.73,321.06 676.47,317.76 676.47,324.36"/><polygon points="684.58,321.07 677.32,317.77 677.32,324.37"/><polygon points="685.41,321.08 678.15,317.78 678.15,324.38"/><polygon points="686.24,321.09 678.98,317.79 678.98,324.39"/><polygon points="687.05,321.10 679.79,317.80 679.79,324.40"/><polygon points="687.86,321.11 680.60,317.81 680.60,324.41"/><polygon points="688.65,321.12 681.39,317.82 681.39,324.42"/><polygon points="689.43,321.13 682.17,317.83 682.17,324.43"/><polygon points="690.21,321.14 682.95,317.84 682.95,324.44"/><polygon points="690.97,321.14 683.71,317.84 683.71,324.44"/><polygon points="691.73,321.15 684.47,317.85 684.47,324.45"/><polygon points="692.47,321.16 685.21,317.86 685.21,324.46"/><polygon points="693.21,321.17 685.95,317.87 685.95,324.47"/><polygon points="693.94,321.18 686.68,317.88 686.68,324.48"/><polygon points="694.65,321.19 687.39,317.89 687.39,324.49"/><polygon points="695.37,321.20 688.11,317.90 688.11,324.50"/><polygon points="696.07,321.21 688.81,317.91 688.81,324.51"/><polygon points="696.76,321.21 689.50,317.91 689.50,324.51"/><polygon points="697.45,321.22 690.19,317.92 690.19,324.52"/><polygon points="698.13,321.23 690.87,317.93 690.87,324.53"/><polygon points="698.80,321.24 691.54,317.94 691.54,324.54"/><polygon points="699.47,321.25 692.21,317.95 692.21,324.55"/><polygon points="700.12,321.25 692.86,317.95 692.86,324.55"/><polygon points="700.78,321.26 693.52,317.96 693.52,324.56"/><polygon points="701.42,321.27 694.16,317.97 694.16,324.57"/><polygon points="702.06,321.28 694.80,317.98 694.80,324.58"/><polygon points="702.69,321.29 695.43,317.99 695.43,324.59"/><polygon points="703.31,321.29 696.05,317.99 696.05,324.59"/><polygon points="703.93,321.30 696.67,318.00 696.67,324.60"/></g>
</g>
<rect x="76.05" y="21.4" width="284.35" height="150.00" fill="none" stroke="#6a6a6a" stroke-width="1.2"/>
<rect x="417.1" y="21.5" width="283.20" height="149.90" fill="none" stroke="#6a6a6a" stroke-width="1.2"/>
<rect x="76.05" y="201.4" width="284.35" height="149.80" fill="none" stroke="#6a6a6a" stroke-width="1.2"/>
<rect x="417.1" y="201.3" width="283.20" height="150.10" fill="none" stroke="#6a6a6a" stroke-width="1.2"/>
<line x1="85.50" y1="171.40" x2="85.50" y2="174.90" stroke="#2e2e2e" stroke-width="0.9"/>
<line x1="128.50" y1="171.40" x2="128.50" y2="174.90" stroke="#2e2e2e" stroke-width="0.9"/>
<line x1="172.50" y1="171.40" x2="172.50" y2="174.90" stroke="#2e2e2e" stroke-width="0.9"/>
<line x1="216.50" y1="171.40" x2="216.50" y2="174.90" stroke="#2e2e2e" stroke-width="0.9"/>
<line x1="259.50" y1="171.40" x2="259.50" y2="174.90" stroke="#2e2e2e" stroke-width="0.9"/>
<line x1="303.50" y1="171.40" x2="303.50" y2="174.90" stroke="#2e2e2e" stroke-width="0.9"/>
<line x1="347.50" y1="171.40" x2="347.50" y2="174.90" stroke="#2e2e2e" stroke-width="0.9"/>
<line x1="72.55" y1="171.50" x2="76.05" y2="171.50" stroke="#2e2e2e" stroke-width="0.9"/>
<line x1="72.55" y1="141.50" x2="76.05" y2="141.50" stroke="#2e2e2e" stroke-width="0.9"/>
<line x1="72.55" y1="111.50" x2="76.05" y2="111.50" stroke="#2e2e2e" stroke-width="0.9"/>
<line x1="72.55" y1="81.50" x2="76.05" y2="81.50" stroke="#2e2e2e" stroke-width="0.9"/>
<line x1="72.55" y1="51.50" x2="76.05" y2="51.50" stroke="#2e2e2e" stroke-width="0.9"/>
<line x1="72.55" y1="21.50" x2="76.05" y2="21.50" stroke="#2e2e2e" stroke-width="0.9"/>
<line x1="85.50" y1="351.20" x2="85.50" y2="354.70" stroke="#2e2e2e" stroke-width="0.9"/>
<line x1="128.50" y1="351.20" x2="128.50" y2="354.70" stroke="#2e2e2e" stroke-width="0.9"/>
<line x1="172.50" y1="351.20" x2="172.50" y2="354.70" stroke="#2e2e2e" stroke-width="0.9"/>
<line x1="216.50" y1="351.20" x2="216.50" y2="354.70" stroke="#2e2e2e" stroke-width="0.9"/>
<line x1="259.50" y1="351.20" x2="259.50" y2="354.70" stroke="#2e2e2e" stroke-width="0.9"/>
<line x1="303.50" y1="351.20" x2="303.50" y2="354.70" stroke="#2e2e2e" stroke-width="0.9"/>
<line x1="347.50" y1="351.20" x2="347.50" y2="354.70" stroke="#2e2e2e" stroke-width="0.9"/>
<line x1="72.55" y1="351.50" x2="76.05" y2="351.50" stroke="#2e2e2e" stroke-width="0.9"/>
<line x1="72.55" y1="321.50" x2="76.05" y2="321.50" stroke="#2e2e2e" stroke-width="0.9"/>
<line x1="72.55" y1="291.50" x2="76.05" y2="291.50" stroke="#2e2e2e" stroke-width="0.9"/>
<line x1="72.55" y1="261.50" x2="76.05" y2="261.50" stroke="#2e2e2e" stroke-width="0.9"/>
<line x1="72.55" y1="231.50" x2="76.05" y2="231.50" stroke="#2e2e2e" stroke-width="0.9"/>
<line x1="72.55" y1="201.50" x2="76.05" y2="201.50" stroke="#2e2e2e" stroke-width="0.9"/>
<line x1="417.50" y1="171.40" x2="417.50" y2="174.90" stroke="#2e2e2e" stroke-width="0.9"/>
<line x1="558.50" y1="171.40" x2="558.50" y2="174.90" stroke="#2e2e2e" stroke-width="0.9"/>
<line x1="700.50" y1="171.40" x2="700.50" y2="174.90" stroke="#2e2e2e" stroke-width="0.9"/>
<line x1="459.5" y1="171.40" x2="459.5" y2="173.40" stroke="#555" stroke-width="0.8"/>
<line x1="484.5" y1="171.40" x2="484.5" y2="173.40" stroke="#555" stroke-width="0.8"/>
<line x1="502.5" y1="171.40" x2="502.5" y2="173.40" stroke="#555" stroke-width="0.8"/>
<line x1="516.5" y1="171.40" x2="516.5" y2="173.40" stroke="#555" stroke-width="0.8"/>
<line x1="527.5" y1="171.40" x2="527.5" y2="173.40" stroke="#555" stroke-width="0.8"/>
<line x1="536.5" y1="171.40" x2="536.5" y2="173.40" stroke="#555" stroke-width="0.8"/>
<line x1="544.5" y1="171.40" x2="544.5" y2="173.40" stroke="#555" stroke-width="0.8"/>
<line x1="552.5" y1="171.40" x2="552.5" y2="173.40" stroke="#555" stroke-width="0.8"/>
<line x1="601.5" y1="171.40" x2="601.5" y2="173.40" stroke="#555" stroke-width="0.8"/>
<line x1="626.5" y1="171.40" x2="626.5" y2="173.40" stroke="#555" stroke-width="0.8"/>
<line x1="643.5" y1="171.40" x2="643.5" y2="173.40" stroke="#555" stroke-width="0.8"/>
<line x1="657.5" y1="171.40" x2="657.5" y2="173.40" stroke="#555" stroke-width="0.8"/>
<line x1="668.5" y1="171.40" x2="668.5" y2="173.40" stroke="#555" stroke-width="0.8"/>
<line x1="678.5" y1="171.40" x2="678.5" y2="173.40" stroke="#555" stroke-width="0.8"/>
<line x1="686.5" y1="171.40" x2="686.5" y2="173.40" stroke="#555" stroke-width="0.8"/>
<line x1="693.5" y1="171.40" x2="693.5" y2="173.40" stroke="#555" stroke-width="0.8"/>
<line x1="417.50" y1="351.40" x2="417.50" y2="354.90" stroke="#2e2e2e" stroke-width="0.9"/>
<line x1="558.50" y1="351.40" x2="558.50" y2="354.90" stroke="#2e2e2e" stroke-width="0.9"/>
<line x1="700.50" y1="351.40" x2="700.50" y2="354.90" stroke="#2e2e2e" stroke-width="0.9"/>
<line x1="459.5" y1="351.40" x2="459.5" y2="353.40" stroke="#555" stroke-width="0.8"/>
<line x1="484.5" y1="351.40" x2="484.5" y2="353.40" stroke="#555" stroke-width="0.8"/>
<line x1="502.5" y1="351.40" x2="502.5" y2="353.40" stroke="#555" stroke-width="0.8"/>
<line x1="516.5" y1="351.40" x2="516.5" y2="353.40" stroke="#555" stroke-width="0.8"/>
<line x1="527.5" y1="351.40" x2="527.5" y2="353.40" stroke="#555" stroke-width="0.8"/>
<line x1="536.5" y1="351.40" x2="536.5" y2="353.40" stroke="#555" stroke-width="0.8"/>
<line x1="544.5" y1="351.40" x2="544.5" y2="353.40" stroke="#555" stroke-width="0.8"/>
<line x1="552.5" y1="351.40" x2="552.5" y2="353.40" stroke="#555" stroke-width="0.8"/>
<line x1="601.5" y1="351.40" x2="601.5" y2="353.40" stroke="#555" stroke-width="0.8"/>
<line x1="626.5" y1="351.40" x2="626.5" y2="353.40" stroke="#555" stroke-width="0.8"/>
<line x1="643.5" y1="351.40" x2="643.5" y2="353.40" stroke="#555" stroke-width="0.8"/>
<line x1="657.5" y1="351.40" x2="657.5" y2="353.40" stroke="#555" stroke-width="0.8"/>
<line x1="668.5" y1="351.40" x2="668.5" y2="353.40" stroke="#555" stroke-width="0.8"/>
<line x1="678.5" y1="351.40" x2="678.5" y2="353.40" stroke="#555" stroke-width="0.8"/>
<line x1="686.5" y1="351.40" x2="686.5" y2="353.40" stroke="#555" stroke-width="0.8"/>
<line x1="693.5" y1="351.40" x2="693.5" y2="353.40" stroke="#555" stroke-width="0.8"/>
<line x1="413.60" y1="170.50" x2="417.10" y2="170.50" stroke="#2e2e2e" stroke-width="0.9"/>
<line x1="413.60" y1="152.50" x2="417.10" y2="152.50" stroke="#2e2e2e" stroke-width="0.9"/>
<line x1="413.60" y1="135.50" x2="417.10" y2="135.50" stroke="#2e2e2e" stroke-width="0.9"/>
<line x1="413.60" y1="117.50" x2="417.10" y2="117.50" stroke="#2e2e2e" stroke-width="0.9"/>
<line x1="413.60" y1="99.50" x2="417.10" y2="99.50" stroke="#2e2e2e" stroke-width="0.9"/>
<line x1="413.60" y1="82.50" x2="417.10" y2="82.50" stroke="#2e2e2e" stroke-width="0.9"/>
<line x1="413.60" y1="64.50" x2="417.10" y2="64.50" stroke="#2e2e2e" stroke-width="0.9"/>
<line x1="413.60" y1="46.50" x2="417.10" y2="46.50" stroke="#2e2e2e" stroke-width="0.9"/>
<line x1="413.60" y1="28.50" x2="417.10" y2="28.50" stroke="#2e2e2e" stroke-width="0.9"/>
<line x1="413.60" y1="338.50" x2="417.10" y2="338.50" stroke="#2e2e2e" stroke-width="0.9"/>
<line x1="413.60" y1="319.50" x2="417.10" y2="319.50" stroke="#2e2e2e" stroke-width="0.9"/>
<line x1="413.60" y1="301.50" x2="417.10" y2="301.50" stroke="#2e2e2e" stroke-width="0.9"/>
<line x1="413.60" y1="282.50" x2="417.10" y2="282.50" stroke="#2e2e2e" stroke-width="0.9"/>
<line x1="413.60" y1="264.50" x2="417.10" y2="264.50" stroke="#2e2e2e" stroke-width="0.9"/>
<line x1="413.60" y1="245.50" x2="417.10" y2="245.50" stroke="#2e2e2e" stroke-width="0.9"/>
<line x1="413.60" y1="226.50" x2="417.10" y2="226.50" stroke="#2e2e2e" stroke-width="0.9"/>
<line x1="413.60" y1="208.50" x2="417.10" y2="208.50" stroke="#2e2e2e" stroke-width="0.9"/>
<text transform="matrix(0.23495,0,0,0.17333,-0.340,12.560)" font-family="Liberation Serif" font-style="normal" font-weight="normal" font-size="100" fill="#000" stroke="#000" stroke-width="0" stroke-linejoin="round">(a)</text>
<text transform="matrix(0.25185,0,0,0.16444,370.393,12.947)" font-family="Liberation Serif" font-style="normal" font-weight="normal" font-size="100" fill="#000" stroke="#000" stroke-width="0" stroke-linejoin="round">(b)</text>
<text transform="matrix(0.23592,0,0,0.16333,-0.144,196.170)" font-family="Liberation Serif" font-style="normal" font-weight="normal" font-size="100" fill="#000" stroke="#000" stroke-width="0" stroke-linejoin="round">(c)</text>
<text transform="matrix(0.24444,0,0,0.17000,369.922,196.530)" font-family="Liberation Serif" font-style="normal" font-weight="normal" font-size="100" fill="#000" stroke="#000" stroke-width="0" stroke-linejoin="round">(d)</text>
<text transform="matrix(0,-0.13410,0.16957,0,44.639,179.366)" font-family="Liberation Serif" font-style="italic" font-weight="normal" font-size="100" fill="#000" stroke="#000" stroke-width="0.5" stroke-linejoin="round">Final Fraction of Cooperators</text>
<text transform="matrix(0,-0.13360,0.16739,0,386.685,163.066)" font-family="Liberation Serif" font-style="italic" font-weight="normal" font-size="100" fill="#000" stroke="#000" stroke-width="0.5" stroke-linejoin="round">Fraction of Cooperators</text>
<text transform="matrix(0,-0.13410,0.16957,0,44.639,359.566)" font-family="Liberation Serif" font-style="italic" font-weight="normal" font-size="100" fill="#000" stroke="#000" stroke-width="0.5" stroke-linejoin="round">Final Fraction of Cooperators</text>
<text transform="matrix(0,-0.13360,0.16739,0,386.685,342.966)" font-family="Liberation Serif" font-style="italic" font-weight="normal" font-size="100" fill="#000" stroke="#000" stroke-width="0.5" stroke-linejoin="round">Fraction of Cooperators</text>
<text transform="matrix(0.17674,0,0,0.12206,198.316,196.956)" font-family="Liberation Serif" font-style="italic" font-weight="normal" font-size="100" fill="#000" stroke="#000" stroke-width="1.3" stroke-linejoin="round">Costs</text>
<text transform="matrix(0.17674,0,0,0.12500,198.316,376.750)" font-family="Liberation Serif" font-style="italic" font-weight="normal" font-size="100" fill="#000" stroke="#000" stroke-width="1.3" stroke-linejoin="round">Costs</text>
<text transform="matrix(0.17807,0,0,0.12206,540.232,197.756)" font-family="Liberation Serif" font-style="italic" font-weight="normal" font-size="100" fill="#000" stroke="#000" stroke-width="1.3" stroke-linejoin="round">Time</text>
<text transform="matrix(0.17807,0,0,0.12206,540.232,377.456)" font-family="Liberation Serif" font-style="italic" font-weight="normal" font-size="100" fill="#000" stroke="#000" stroke-width="1.3" stroke-linejoin="round">Time</text>
<rect x="234.4" y="27.6" width="117.1" height="72.3" rx="1.5" fill="#fff" stroke="#d6d6d6" stroke-width="1.1"/>
<line x1="239.8" y1="37.0" x2="274.7" y2="37.0" stroke="#ff1493" stroke-width="1.1"/>
<g fill="#ff1493"><polygon points="257.30,34.01 260.75,36.29 259.43,39.99 255.17,39.99 253.85,36.29"/></g>
<line x1="239.8" y1="54.4" x2="274.7" y2="54.4" stroke="#000000" stroke-width="1.1"/>
<g fill="#000000"><rect x="252.93" y="51.18" width="8.74" height="6.44"/></g>
<line x1="239.8" y1="71.4" x2="274.7" y2="71.4" stroke="#00ff00" stroke-width="1.1"/>
<g fill="#00ff00"><polygon points="257.30,67.03 260.41,71.40 257.30,75.77 254.20,71.40"/></g>
<line x1="239.8" y1="88.2" x2="274.7" y2="88.2" stroke="#87cefa" stroke-width="1.1"/>
<g fill="#87cefa"><polygon points="261.10,88.20 253.51,84.75 253.51,91.65"/></g>
<text transform="matrix(0.12500,0,0,0.09600,53.050,175.472)" font-family="Liberation Serif" font-size="100" fill="#000" stroke="#000" stroke-width="1.3" stroke-linejoin="round">0.0</text>
<text transform="matrix(0.12500,0,0,0.09600,53.300,145.472)" font-family="Liberation Serif" font-size="100" fill="#000" stroke="#000" stroke-width="1.3" stroke-linejoin="round">0.2</text>
<text transform="matrix(0.12500,0,0,0.09600,52.800,115.472)" font-family="Liberation Serif" font-size="100" fill="#000" stroke="#000" stroke-width="1.3" stroke-linejoin="round">0.4</text>
<text transform="matrix(0.12500,0,0,0.09600,52.925,85.472)" font-family="Liberation Serif" font-size="100" fill="#000" stroke="#000" stroke-width="1.3" stroke-linejoin="round">0.6</text>
<text transform="matrix(0.12500,0,0,0.09600,53.050,55.472)" font-family="Liberation Serif" font-size="100" fill="#000" stroke="#000" stroke-width="1.3" stroke-linejoin="round">0.8</text>
<text transform="matrix(0.12500,0,0,0.09600,53.050,25.520)" font-family="Liberation Serif" font-size="100" fill="#000" stroke="#000" stroke-width="1.3" stroke-linejoin="round">1.0</text>
<text transform="matrix(0.12400,0,0,0.09900,74.150,183.634)" font-family="Liberation Serif" font-size="100" fill="#000" stroke="#000" stroke-width="1.3" stroke-linejoin="round">0.00</text>
<text transform="matrix(0.12400,0,0,0.09900,117.817,183.634)" font-family="Liberation Serif" font-size="100" fill="#000" stroke="#000" stroke-width="1.3" stroke-linejoin="round">0.25</text>
<text transform="matrix(0.12400,0,0,0.09900,161.485,183.634)" font-family="Liberation Serif" font-size="100" fill="#000" stroke="#000" stroke-width="1.3" stroke-linejoin="round">0.50</text>
<text transform="matrix(0.12400,0,0,0.09900,205.153,183.634)" font-family="Liberation Serif" font-size="100" fill="#000" stroke="#000" stroke-width="1.3" stroke-linejoin="round">0.75</text>
<text transform="matrix(0.12400,0,0,0.09900,248.510,183.733)" font-family="Liberation Serif" font-size="100" fill="#000" stroke="#000" stroke-width="1.3" stroke-linejoin="round">1.00</text>
<text transform="matrix(0.12400,0,0,0.09900,292.177,183.733)" font-family="Liberation Serif" font-size="100" fill="#000" stroke="#000" stroke-width="1.3" stroke-linejoin="round">1.25</text>
<text transform="matrix(0.12400,0,0,0.09900,335.845,183.733)" font-family="Liberation Serif" font-size="100" fill="#000" stroke="#000" stroke-width="1.3" stroke-linejoin="round">1.50</text>
<text transform="matrix(0.12500,0,0,0.09600,53.050,355.272)" font-family="Liberation Serif" font-size="100" fill="#000" stroke="#000" stroke-width="1.3" stroke-linejoin="round">0.0</text>
<text transform="matrix(0.12500,0,0,0.09600,53.300,325.312)" font-family="Liberation Serif" font-size="100" fill="#000" stroke="#000" stroke-width="1.3" stroke-linejoin="round">0.2</text>
<text transform="matrix(0.12500,0,0,0.09600,52.800,295.352)" font-family="Liberation Serif" font-size="100" fill="#000" stroke="#000" stroke-width="1.3" stroke-linejoin="round">0.4</text>
<text transform="matrix(0.12500,0,0,0.09600,52.925,265.392)" font-family="Liberation Serif" font-size="100" fill="#000" stroke="#000" stroke-width="1.3" stroke-linejoin="round">0.6</text>
<text transform="matrix(0.12500,0,0,0.09600,53.050,235.432)" font-family="Liberation Serif" font-size="100" fill="#000" stroke="#000" stroke-width="1.3" stroke-linejoin="round">0.8</text>
<text transform="matrix(0.12500,0,0,0.09600,53.050,205.520)" font-family="Liberation Serif" font-size="100" fill="#000" stroke="#000" stroke-width="1.3" stroke-linejoin="round">1.0</text>
<text transform="matrix(0.12400,0,0,0.09900,74.150,363.434)" font-family="Liberation Serif" font-size="100" fill="#000" stroke="#000" stroke-width="1.3" stroke-linejoin="round">0.00</text>
<text transform="matrix(0.12400,0,0,0.09900,117.817,363.434)" font-family="Liberation Serif" font-size="100" fill="#000" stroke="#000" stroke-width="1.3" stroke-linejoin="round">0.25</text>
<text transform="matrix(0.12400,0,0,0.09900,161.485,363.434)" font-family="Liberation Serif" font-size="100" fill="#000" stroke="#000" stroke-width="1.3" stroke-linejoin="round">0.50</text>
<text transform="matrix(0.12400,0,0,0.09900,205.153,363.434)" font-family="Liberation Serif" font-size="100" fill="#000" stroke="#000" stroke-width="1.3" stroke-linejoin="round">0.75</text>
<text transform="matrix(0.12400,0,0,0.09900,248.510,363.533)" font-family="Liberation Serif" font-size="100" fill="#000" stroke="#000" stroke-width="1.3" stroke-linejoin="round">1.00</text>
<text transform="matrix(0.12400,0,0,0.09900,292.177,363.533)" font-family="Liberation Serif" font-size="100" fill="#000" stroke="#000" stroke-width="1.3" stroke-linejoin="round">1.25</text>
<text transform="matrix(0.12400,0,0,0.09900,335.845,363.533)" font-family="Liberation Serif" font-size="100" fill="#000" stroke="#000" stroke-width="1.3" stroke-linejoin="round">1.50</text>
<text transform="matrix(0.09000,0,0,0.06600,395.660,173.577)" font-family="Liberation Sans" font-size="100" fill="#000" stroke="#000" stroke-width="1.3" stroke-linejoin="round">0.0</text>
<text transform="matrix(0.09000,0,0,0.06600,395.750,155.902)" font-family="Liberation Sans" font-size="100" fill="#000" stroke="#000" stroke-width="1.3" stroke-linejoin="round">0.1</text>
<text transform="matrix(0.09000,0,0,0.06600,395.750,138.227)" font-family="Liberation Sans" font-size="100" fill="#000" stroke="#000" stroke-width="1.3" stroke-linejoin="round">0.2</text>
<text transform="matrix(0.09000,0,0,0.06600,395.750,120.552)" font-family="Liberation Sans" font-size="100" fill="#000" stroke="#000" stroke-width="1.3" stroke-linejoin="round">0.3</text>
<text transform="matrix(0.09000,0,0,0.06600,395.570,102.877)" font-family="Liberation Sans" font-size="100" fill="#000" stroke="#000" stroke-width="1.3" stroke-linejoin="round">0.4</text>
<text transform="matrix(0.09000,0,0,0.06600,395.660,85.202)" font-family="Liberation Sans" font-size="100" fill="#000" stroke="#000" stroke-width="1.3" stroke-linejoin="round">0.5</text>
<text transform="matrix(0.09000,0,0,0.06600,395.750,67.527)" font-family="Liberation Sans" font-size="100" fill="#000" stroke="#000" stroke-width="1.3" stroke-linejoin="round">0.6</text>
<text transform="matrix(0.09000,0,0,0.06600,395.750,49.852)" font-family="Liberation Sans" font-size="100" fill="#000" stroke="#000" stroke-width="1.3" stroke-linejoin="round">0.7</text>
<text transform="matrix(0.09000,0,0,0.06600,395.750,32.177)" font-family="Liberation Sans" font-size="100" fill="#000" stroke="#000" stroke-width="1.3" stroke-linejoin="round">0.8</text>
<text transform="matrix(0.09000,0,0,0.06600,395.750,341.747)" font-family="Liberation Sans" font-size="100" fill="#000" stroke="#000" stroke-width="1.3" stroke-linejoin="round">0.1</text>
<text transform="matrix(0.09000,0,0,0.06600,395.750,323.117)" font-family="Liberation Sans" font-size="100" fill="#000" stroke="#000" stroke-width="1.3" stroke-linejoin="round">0.2</text>
<text transform="matrix(0.09000,0,0,0.06600,395.750,304.487)" font-family="Liberation Sans" font-size="100" fill="#000" stroke="#000" stroke-width="1.3" stroke-linejoin="round">0.3</text>
<text transform="matrix(0.09000,0,0,0.06600,395.570,285.857)" font-family="Liberation Sans" font-size="100" fill="#000" stroke="#000" stroke-width="1.3" stroke-linejoin="round">0.4</text>
<text transform="matrix(0.09000,0,0,0.06600,395.660,267.227)" font-family="Liberation Sans" font-size="100" fill="#000" stroke="#000" stroke-width="1.3" stroke-linejoin="round">0.5</text>
<text transform="matrix(0.09000,0,0,0.06600,395.750,248.597)" font-family="Liberation Sans" font-size="100" fill="#000" stroke="#000" stroke-width="1.3" stroke-linejoin="round">0.6</text>
<text transform="matrix(0.09000,0,0,0.06600,395.750,229.967)" font-family="Liberation Sans" font-size="100" fill="#000" stroke="#000" stroke-width="1.3" stroke-linejoin="round">0.7</text>
<text transform="matrix(0.09000,0,0,0.06600,395.750,211.337)" font-family="Liberation Sans" font-size="100" fill="#000" stroke="#000" stroke-width="1.3" stroke-linejoin="round">0.8</text>
<text transform="matrix(0.09400,0,0,0.08000,408.342,184.180)" font-family="Liberation Sans" font-size="100" fill="#000" stroke="#000" stroke-width="1.3" stroke-linejoin="round">10</text>
<text transform="matrix(0.06600,0,0,0.05200,419.402,180.792)" font-family="Liberation Sans" font-size="100" fill="#000" stroke="#000" stroke-width="1.3" stroke-linejoin="round">0</text>
<text transform="matrix(0.09400,0,0,0.08000,549.942,184.180)" font-family="Liberation Sans" font-size="100" fill="#000" stroke="#000" stroke-width="1.3" stroke-linejoin="round">10</text>
<text transform="matrix(0.06600,0,0,0.05200,560.738,180.740)" font-family="Liberation Sans" font-size="100" fill="#000" stroke="#000" stroke-width="1.3" stroke-linejoin="round">1</text>
<text transform="matrix(0.09400,0,0,0.08000,691.542,184.180)" font-family="Liberation Sans" font-size="100" fill="#000" stroke="#000" stroke-width="1.3" stroke-linejoin="round">10</text>
<text transform="matrix(0.06600,0,0,0.05200,702.536,180.792)" font-family="Liberation Sans" font-size="100" fill="#000" stroke="#000" stroke-width="1.3" stroke-linejoin="round">2</text>
<text transform="matrix(0.09400,0,0,0.08000,408.342,363.880)" font-family="Liberation Sans" font-size="100" fill="#000" stroke="#000" stroke-width="1.3" stroke-linejoin="round">10</text>
<text transform="matrix(0.06600,0,0,0.05200,419.402,360.492)" font-family="Liberation Sans" font-size="100" fill="#000" stroke="#000" stroke-width="1.3" stroke-linejoin="round">0</text>
<text transform="matrix(0.09400,0,0,0.08000,549.942,363.880)" font-family="Liberation Sans" font-size="100" fill="#000" stroke="#000" stroke-width="1.3" stroke-linejoin="round">10</text>
<text transform="matrix(0.06600,0,0,0.05200,560.738,360.440)" font-family="Liberation Sans" font-size="100" fill="#000" stroke="#000" stroke-width="1.3" stroke-linejoin="round">1</text>
<text transform="matrix(0.09400,0,0,0.08000,691.542,363.880)" font-family="Liberation Sans" font-size="100" fill="#000" stroke="#000" stroke-width="1.3" stroke-linejoin="round">10</text>
<text transform="matrix(0.06600,0,0,0.05200,702.536,360.492)" font-family="Liberation Sans" font-size="100" fill="#000" stroke="#000" stroke-width="1.3" stroke-linejoin="round">2</text>
<text transform="matrix(0.16400,0,0,0.11900,288.072,41.454)" font-family="Liberation Serif" font-size="100" fill="#000" stroke="#000" stroke-width="1.3" stroke-linejoin="round">HCC</text>
<text transform="matrix(0.16400,0,0,0.11900,288.072,59.430)" font-family="Liberation Serif" font-size="100" fill="#000" stroke="#000" stroke-width="1.3" stroke-linejoin="round">Hub</text>
<text transform="matrix(0.16400,0,0,0.11900,288.072,76.430)" font-family="Liberation Serif" font-size="100" fill="#000" stroke="#000" stroke-width="1.3" stroke-linejoin="round">Local</text>
<text transform="matrix(0.16400,0,0,0.11900,288.072,93.430)" font-family="Liberation Serif" font-size="100" fill="#000" stroke="#000" stroke-width="1.3" stroke-linejoin="round">Random</text>
</svg>
</body></html>
